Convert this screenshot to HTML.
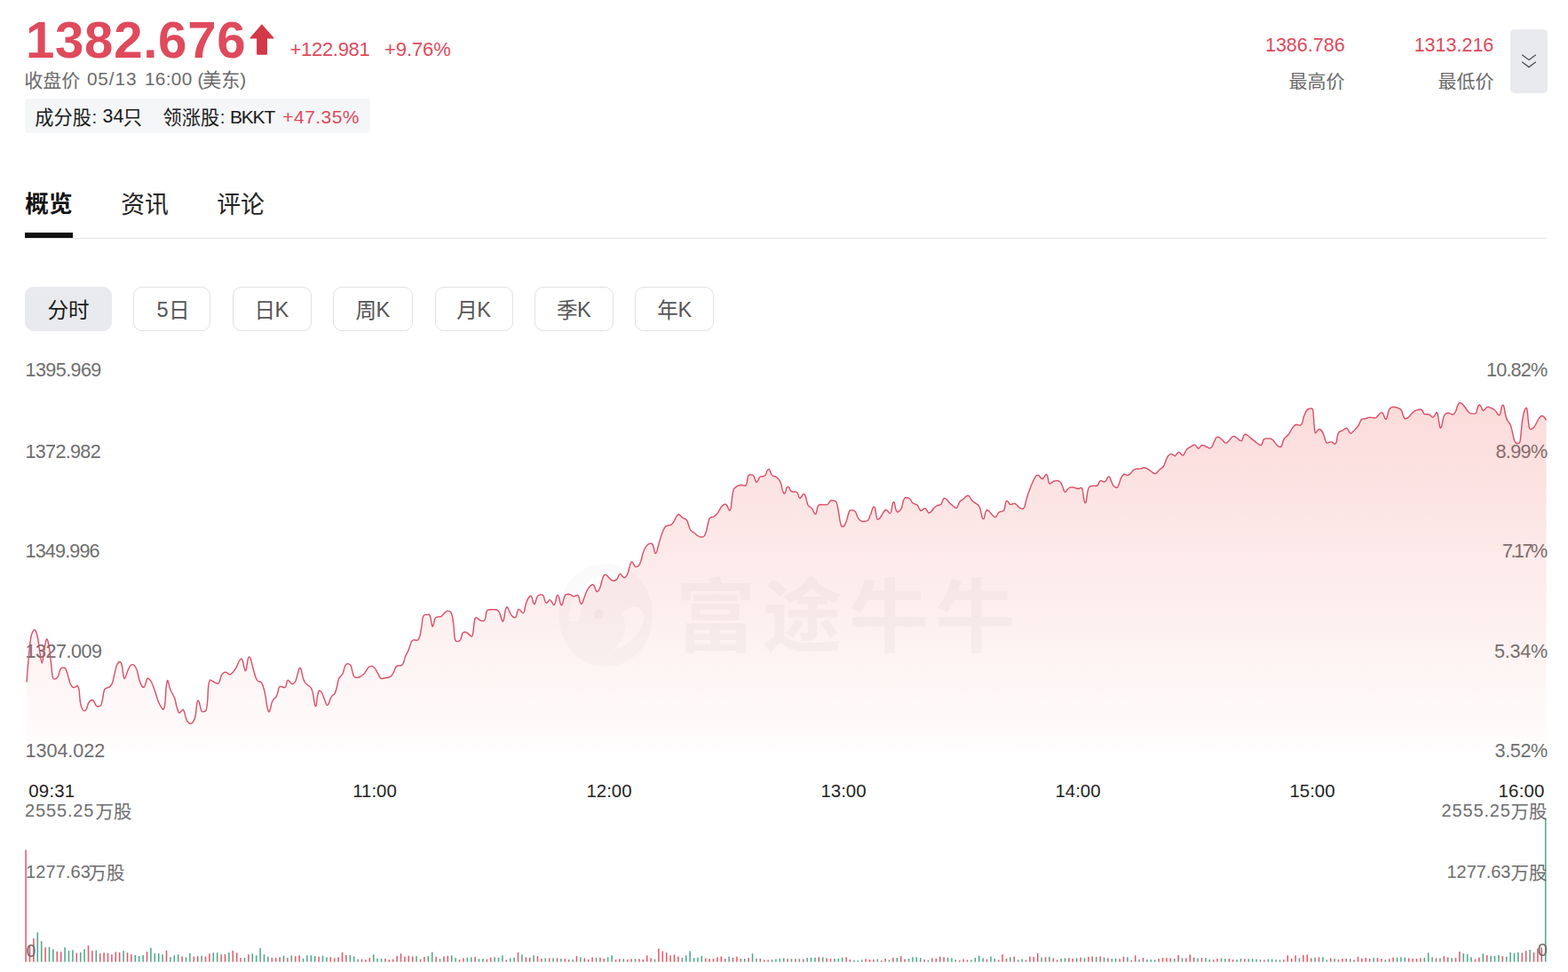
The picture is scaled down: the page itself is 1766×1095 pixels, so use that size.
<!DOCTYPE html>
<html lang="zh"><head><meta charset="utf-8"><title>Index quote</title><style>
html,body{margin:0;padding:0;background:#fff}
body{width:1766px;height:1095px;position:relative;overflow:hidden;font-family:"Liberation Sans",sans-serif}
.t{position:absolute;white-space:nowrap;line-height:1.149;}
.t.c{text-align:center}
.t.h{font-family:"Liberation Sans","Noto Sans CJK SC",sans-serif;overflow:visible;line-height:1.12;pointer-events:none}
.badge{position:absolute;left:28px;top:111px;width:389px;height:39px;border-radius:4px;background:#f5f6f7}
.morebtn{position:absolute;left:1701px;top:33px;width:42px;height:72px;border-radius:5px;background:#e9eaee}
.tabline{position:absolute;left:28px;top:268px;width:1714px;height:1px;background:#e4e4e4}
.tabul{position:absolute;left:28px;top:262px;width:54px;height:6px;background:#111}
.pbtn{position:absolute;top:323px;height:50px;box-sizing:border-box;border:1px solid #e2e2e4;border-radius:10px;background:#fff}
.pbtn.act{background:#e9eaee;border-color:#e9eaee}
svg.page{position:absolute;left:0;top:0}
</style></head>
<body>
<div class="badge"></div>
<div class="morebtn"></div>
<div class="tabline"></div><div class="tabul"></div>
<div class="pbtn act" style="left:28px;width:98.0px"></div>
<div class="pbtn" style="left:150.2px;width:87.3px"></div>
<div class="pbtn" style="left:262.4px;width:88.3px"></div>
<div class="pbtn" style="left:375.1px;width:89.6px"></div>
<div class="pbtn" style="left:489.5px;width:88.3px"></div>
<div class="pbtn" style="left:602.3px;width:88.5px"></div>
<div class="pbtn" style="left:715px;width:88.6px"></div>
<span class="t" style="top:404.75px;font-size:21.6px;color:#6e6e6e;letter-spacing:-0.6px;left:28.5px;">1395.969</span>
<span class="t" style="top:496.65px;font-size:21.6px;color:#6e6e6e;letter-spacing:-0.7px;left:28.5px;">1372.982</span>
<span class="t" style="top:609.25px;font-size:21.6px;color:#6e6e6e;letter-spacing:-0.85px;left:28.5px;">1349.996</span>
<span class="t" style="top:721.65px;font-size:21.6px;color:#6e6e6e;letter-spacing:-0.5px;left:28.5px;">1327.009</span>
<span class="t" style="top:834.25px;font-size:21.6px;color:#6e6e6e;letter-spacing:-0.05px;left:28.5px;">1304.022</span>
<span class="t" style="top:404.75px;font-size:21.6px;color:#6e6e6e;letter-spacing:-0.8px;right:23.60px;">10.82%</span>
<span class="t" style="top:496.65px;font-size:21.6px;color:#6e6e6e;letter-spacing:-0.6px;right:23.40px;">8.99%</span>
<span class="t" style="top:609.25px;font-size:21.6px;color:#6e6e6e;letter-spacing:-2.5px;right:25.30px;">7.17%</span>
<span class="t" style="top:721.65px;font-size:21.6px;color:#6e6e6e;letter-spacing:-0.25px;right:23.05px;">5.34%</span>
<span class="t" style="top:834.25px;font-size:21.6px;color:#6e6e6e;letter-spacing:-0.38px;right:23.18px;">3.52%</span>
<svg class="page" width="1766" height="1095" viewBox="0 0 1766 1095">
<path d="M294.9 27.2 L308.4 42.6 Q308.9 43.6 307.8 43.6 L301 43.6 L301 60.8 Q301 61.8 300 61.8 L290.1 61.8 Q289.1 61.8 289.1 60.8 L289.1 43.6 L282.2 43.6 Q281 43.6 281.6 42.6 Z" fill="#d23847"/>
<path d="M1714.2 61.8 L1722 67.5 L1729.8 61.8 M1714.2 69.8 L1722 75.6 L1729.8 69.8" fill="none" stroke="#4d4d4d" stroke-width="1.25"/>
<defs><linearGradient id="g" x1="0" y1="440" x2="0" y2="872" gradientUnits="userSpaceOnUse"><stop offset="0" stop-color="#eb5a55" stop-opacity="0.225"/><stop offset="1" stop-color="#eb5a55" stop-opacity="0"/></linearGradient></defs>
<path d="M30.0 768.5C30.4 763.6 31.4 750.3 32.2 741.3C33.1 732.3 33.6 724.4 34.7 718.6C35.9 712.9 37.4 709.8 38.7 709.4C40.0 709.0 41.0 712.1 42.1 716.4C43.2 720.7 43.8 727.9 44.7 733.4C45.6 738.9 46.3 747.0 47.2 747.0C48.1 747.0 48.7 738.2 49.7 733.4C50.6 728.5 51.5 721.0 52.5 720.0C53.5 719.0 54.2 723.1 55.1 727.7C56.0 732.4 56.7 739.7 57.4 745.8C58.1 751.9 58.4 758.2 59.1 761.7C59.8 765.2 60.2 765.0 61.3 765.1C62.5 765.2 64.2 764.1 65.3 762.2C66.4 760.4 66.8 756.7 67.6 754.9C68.4 753.1 68.7 752.6 69.8 752.3C70.9 752.0 72.7 751.9 73.8 753.2C74.9 754.5 75.1 756.5 76.1 759.4C77.0 762.4 77.9 767.0 78.9 769.6C79.9 772.3 80.7 773.3 81.7 774.1C82.7 775.0 83.5 774.4 84.5 774.1C85.6 773.9 86.6 771.9 87.4 772.6C88.2 773.2 88.5 774.2 89.1 777.5C89.6 780.9 89.8 787.4 90.4 791.1C91.1 794.9 91.6 796.8 92.5 798.5C93.4 800.2 94.4 800.8 95.3 800.8C96.2 800.8 96.8 800.1 97.6 798.5C98.4 796.9 98.7 793.5 99.8 791.7C101.0 789.9 102.7 788.7 103.8 788.5C104.9 788.3 105.3 789.4 106.1 790.6C106.9 791.7 107.4 794.1 108.3 795.1C109.3 796.0 110.2 796.1 111.2 795.9C112.2 795.7 113.2 795.6 114.0 794.0C114.8 792.3 115.1 789.6 115.7 786.6C116.3 783.6 116.7 779.6 117.4 777.5C118.1 775.5 118.5 776.0 119.7 775.3C120.8 774.6 122.4 774.6 123.6 773.6C124.8 772.6 125.5 772.0 126.5 769.6C127.4 767.3 127.8 764.2 128.7 760.5C129.6 756.9 130.4 751.9 131.6 749.2C132.7 746.5 133.9 745.5 134.9 745.5C136.0 745.5 136.5 746.5 137.2 749.2C137.9 751.9 138.4 757.8 138.9 760.5C139.4 763.3 139.5 764.3 140.1 764.5C140.6 764.7 140.9 763.6 141.7 761.7C142.6 759.8 143.5 756.1 144.6 753.8C145.7 751.5 146.7 749.6 148.0 748.9C149.2 748.2 150.2 748.7 151.4 749.8C152.5 750.9 153.2 751.9 154.2 754.9C155.2 757.8 156.0 763.0 157.0 766.2C158.0 769.5 158.9 771.6 159.9 773.0C160.8 774.4 161.4 774.5 162.1 774.1C162.8 773.7 163.2 772.4 163.8 770.8C164.4 769.1 164.9 766.2 165.5 765.1C166.1 763.9 166.3 763.7 167.2 764.3C168.1 764.9 169.3 765.9 170.6 768.5C171.9 771.1 173.2 774.6 174.6 778.7C176.0 782.7 177.1 787.7 178.6 791.1C180.0 794.6 181.4 796.6 182.5 797.9C183.6 799.3 183.8 799.7 184.4 798.7C185.1 797.7 185.4 796.5 185.9 792.3C186.4 788.0 186.6 779.9 187.0 775.3C187.5 770.7 188.0 767.8 188.5 766.8C189.0 765.8 189.2 767.7 189.9 769.6C190.5 771.5 190.9 774.5 192.1 777.5C193.4 780.6 195.4 783.3 196.7 786.6C197.9 789.9 198.1 792.8 198.9 795.7C199.8 798.5 200.4 801.3 201.2 802.5C202.0 803.6 202.6 802.5 203.5 801.9C204.4 801.3 205.5 799.0 206.3 799.3C207.1 799.6 207.3 801.4 208.0 803.6C208.7 805.8 209.2 809.4 210.3 811.5C211.3 813.6 212.4 814.7 213.7 815.1C214.9 815.5 215.9 815.2 217.1 813.8C218.2 812.3 219.1 810.9 220.0 807.0C220.9 803.1 221.2 795.3 221.9 792.1C222.5 788.9 223.0 788.8 223.6 789.3C224.2 789.8 224.7 792.8 225.3 794.9C225.9 797.1 226.2 800.0 227.0 801.2C227.8 802.4 228.9 801.7 229.8 801.5C230.7 801.3 231.4 801.8 232.1 800.0C232.8 798.2 233.1 796.3 233.6 791.5C234.0 786.8 234.2 777.9 234.7 773.4C235.2 768.9 235.4 767.5 236.3 766.4C237.1 765.3 238.2 767.0 239.4 767.5C240.7 768.1 242.2 769.1 243.4 769.5C244.6 769.9 245.4 770.5 246.2 769.8C247.1 769.1 247.3 767.2 247.9 765.5C248.6 763.8 248.8 761.8 249.6 760.4C250.5 759.0 251.6 758.1 252.5 757.6C253.4 757.0 253.9 757.1 254.7 757.3C255.5 757.6 256.2 758.4 257.0 758.9C257.8 759.4 258.0 760.3 258.9 760.1C259.8 759.8 260.8 759.0 262.1 757.6C263.4 756.1 264.7 754.2 266.1 751.9C267.4 749.6 268.4 746.3 269.5 744.5C270.5 742.8 271.0 742.3 271.7 742.3C272.4 742.3 272.8 742.7 273.4 744.5C274.0 746.4 274.6 750.4 275.1 752.5C275.6 754.5 275.9 756.0 276.4 755.9C276.8 755.8 277.2 754.3 277.7 751.9C278.3 749.5 278.7 744.4 279.3 742.3C279.9 740.1 280.3 739.9 280.9 740.0C281.5 740.1 281.8 740.7 282.5 742.8C283.2 745.0 283.8 748.4 284.8 751.9C285.7 755.4 286.7 759.4 287.6 762.1C288.5 764.8 289.0 765.6 289.8 766.6C290.7 767.6 291.3 767.4 292.1 767.8C292.9 768.2 293.6 767.8 294.4 768.9C295.2 770.0 295.8 771.3 296.6 774.0C297.5 776.6 298.2 779.8 298.9 783.6C299.6 787.4 300.0 791.9 300.6 794.9C301.2 798.0 301.5 799.3 302.0 800.6C302.4 801.9 302.7 802.2 303.1 802.0C303.5 801.8 303.7 801.2 304.2 799.5C304.8 797.7 305.3 794.3 306.0 792.1C306.8 790.0 307.4 788.8 308.3 787.6C309.2 786.4 310.0 786.4 310.8 785.3C311.5 784.2 311.9 783.2 312.5 781.4C313.1 779.5 313.4 776.6 314.0 775.1C314.5 773.7 314.9 773.5 315.6 773.2C316.2 772.9 316.7 773.4 317.6 773.6C318.5 773.9 319.6 774.7 320.4 774.5C321.2 774.4 321.6 774.1 322.1 772.9C322.6 771.6 322.8 769.0 323.2 767.8C323.7 766.5 324.1 766.1 324.6 766.1C325.1 766.1 325.4 767.0 326.1 767.8C326.8 768.5 327.5 769.8 328.4 770.2C329.2 770.7 329.8 770.6 330.6 770.0C331.4 769.5 332.1 769.0 332.9 767.2C333.7 765.4 334.4 762.3 335.1 759.8C335.9 757.4 336.3 754.9 336.8 753.6C337.3 752.3 337.5 752.3 338.0 752.5C338.4 752.7 338.8 752.8 339.3 754.7C339.9 756.7 340.4 760.7 341.1 763.2C341.9 765.8 342.6 767.3 343.6 768.9C344.7 770.5 345.8 770.9 347.0 772.1C348.3 773.2 349.5 773.4 350.4 775.1C351.4 776.8 351.8 778.4 352.5 781.4C353.1 784.3 353.6 789.0 354.1 791.5C354.5 794.1 354.8 795.1 355.2 795.5C355.6 795.9 355.9 795.7 356.3 793.8C356.7 791.9 357.0 787.4 357.4 784.8C357.9 782.1 358.4 780.0 358.9 778.9C359.5 777.7 359.8 777.9 360.4 778.2C361.0 778.4 361.5 778.6 362.3 780.2C363.2 781.8 364.2 784.7 365.1 787.0C366.1 789.4 366.8 791.9 367.4 793.2C368.1 794.6 368.3 794.5 368.8 794.4C369.3 794.3 369.6 794.0 370.2 792.7C370.9 791.3 371.5 788.6 372.2 787.0C372.9 785.4 373.3 784.6 374.2 783.6C375.1 782.6 376.1 783.0 377.0 781.4C378.0 779.7 378.6 777.4 379.3 774.5C380.1 771.7 380.5 767.7 381.2 765.5C381.9 763.2 382.4 763.3 383.3 762.1C384.1 760.9 385.2 760.5 386.1 758.7C387.0 756.9 387.3 753.8 388.0 751.9C388.7 750.0 389.3 749.0 390.1 748.3C390.8 747.6 391.4 747.6 392.3 747.9C393.2 748.3 394.3 748.7 395.2 750.2C396.0 751.7 396.2 754.3 396.9 756.4C397.5 758.5 397.8 760.6 398.6 761.9C399.3 763.1 399.8 763.0 400.8 763.2C401.8 763.4 403.0 763.4 404.2 763.0C405.4 762.6 406.6 761.6 407.6 761.0C408.7 760.3 409.3 759.9 410.0 759.3C410.7 758.6 410.5 758.7 411.3 757.4C412.2 756.1 413.6 753.6 414.7 752.3C415.8 751.0 416.4 750.5 417.6 750.4C418.7 750.2 419.7 750.4 420.9 751.5C422.2 752.6 423.2 754.4 424.4 756.3C425.5 758.1 426.3 760.5 427.2 761.9C428.1 763.4 428.2 764.1 429.2 764.4C430.2 764.8 431.5 764.2 432.8 764.0C434.2 763.8 435.5 763.6 436.8 763.3C438.1 762.9 439.1 762.9 440.2 761.9C441.3 761.0 442.1 759.7 443.0 758.0C444.0 756.2 444.5 753.7 445.3 752.3C446.1 750.9 446.6 750.5 447.6 750.0C448.6 749.6 449.9 750.0 451.0 749.8C452.0 749.6 452.5 749.7 453.2 748.9C453.9 748.1 454.3 747.2 454.9 745.5C455.5 743.8 455.8 741.4 456.6 739.3C457.4 737.1 458.5 735.6 459.5 733.6C460.4 731.6 461.0 729.9 461.7 728.0C462.4 726.0 462.7 724.1 463.4 722.9C464.1 721.6 464.8 721.2 465.7 720.9C466.6 720.6 467.5 721.2 468.5 721.2C469.5 721.1 470.3 721.6 471.1 720.6C471.9 719.6 472.4 718.0 473.1 715.5C473.7 712.9 474.2 709.9 474.8 706.4C475.3 703.0 475.5 698.7 476.1 696.2C476.7 693.8 477.0 693.5 477.9 692.8C478.8 692.1 479.9 692.4 481.0 692.4C482.0 692.4 483.1 691.9 483.8 692.8C484.6 693.7 484.7 695.4 485.2 697.4C485.6 699.3 485.9 702.1 486.3 703.6C486.7 705.1 486.8 706.0 487.2 705.9C487.6 705.8 487.9 704.6 488.3 703.0C488.8 701.5 489.1 698.8 489.7 697.4C490.3 696.0 490.7 695.8 491.5 695.3C492.3 694.9 493.0 695.0 494.0 694.9C495.0 694.7 495.9 695.0 496.8 694.5C497.7 694.1 498.2 693.2 499.1 692.3C500.0 691.3 500.9 690.0 501.9 689.2C503.0 688.5 503.7 688.0 504.8 688.1C505.8 688.1 506.7 688.2 507.6 689.5C508.5 690.7 509.0 692.3 509.6 695.1C510.2 698.0 510.6 701.4 511.0 705.3C511.4 709.2 511.5 713.7 511.9 716.6C512.3 719.6 512.5 720.6 513.0 721.7C513.6 722.8 514.1 722.6 515.0 722.6C515.8 722.6 517.0 722.5 517.8 721.7C518.6 720.9 518.9 719.8 519.5 718.3C520.1 716.8 520.3 714.3 521.0 713.2C521.6 712.1 522.0 712.2 522.9 712.1C523.7 712.0 524.7 712.2 525.7 712.7C526.7 713.2 527.5 714.1 528.5 714.9C529.6 715.7 530.6 717.5 531.4 717.2C532.1 716.9 532.3 715.8 532.7 713.2C533.2 710.7 533.5 706.0 533.9 703.0C534.3 700.1 534.5 698.1 535.0 696.8C535.5 695.5 535.8 695.6 536.5 695.7C537.1 695.8 537.8 696.8 538.7 697.4C539.6 698.0 540.4 698.7 541.6 699.1C542.7 699.4 544.0 699.9 545.0 699.4C545.9 698.9 546.2 698.0 546.7 696.2C547.2 694.4 547.3 691.1 547.8 689.5C548.3 687.8 548.6 687.7 549.5 687.2C550.4 686.7 551.6 686.8 552.9 686.7C554.2 686.6 555.5 686.6 556.9 686.7C558.2 686.9 559.2 686.8 560.2 687.4C561.3 688.0 561.8 688.6 562.5 690.0C563.2 691.4 563.7 693.5 564.2 695.1C564.8 696.7 565.1 698.2 565.6 699.1C566.0 699.9 566.3 700.4 566.7 699.9C567.1 699.4 567.4 698.3 567.8 696.2C568.2 694.2 568.5 690.5 569.0 688.3C569.4 686.2 570.0 685.1 570.4 684.4C570.9 683.6 571.1 683.5 571.6 684.1C572.1 684.7 572.6 686.3 573.3 687.8C574.0 689.2 574.7 691.0 575.5 692.3C576.4 693.6 577.0 694.3 577.8 694.9C578.6 695.5 579.4 695.9 580.1 695.7C580.8 695.4 581.3 694.7 581.8 693.4C582.3 692.1 582.4 689.6 582.9 688.3C583.4 687.0 583.8 686.4 584.4 686.4C585.0 686.4 585.5 687.3 586.3 688.1C587.1 688.8 588.1 690.4 588.9 690.6C589.7 690.7 589.9 690.5 590.5 688.9C591.0 687.2 591.3 683.9 592.0 681.5C592.6 679.2 593.1 677.6 593.9 675.9C594.7 674.1 595.7 672.7 596.5 671.9C597.3 671.1 597.7 671.0 598.2 671.3C598.7 671.6 599.0 672.6 599.3 673.6C599.6 674.6 599.8 676.1 600.0 677.0C600.2 677.9 600.1 678.0 600.4 678.6C600.8 679.3 601.4 680.9 601.9 680.7C602.4 680.5 602.8 679.0 603.4 677.5C603.9 676.0 604.3 673.7 605.0 672.4C605.6 671.1 606.0 670.8 607.0 670.4C608.0 670.0 609.5 670.0 610.4 670.1C611.3 670.3 611.5 670.1 612.1 671.3C612.7 672.4 613.0 674.9 613.6 676.4C614.1 677.8 614.5 678.9 615.1 679.2C615.8 679.5 616.4 678.5 617.2 677.8C617.9 677.2 618.5 675.6 619.2 675.6C619.9 675.5 620.5 676.6 621.1 677.5C621.8 678.4 622.3 679.8 622.8 680.5C623.4 681.3 623.7 681.9 624.2 681.5C624.7 681.0 625.2 679.7 625.7 678.1C626.1 676.4 626.3 673.8 626.8 672.4C627.3 671.0 627.8 670.3 628.3 670.4C628.8 670.5 629.2 671.4 629.6 673.0C630.1 674.5 630.5 677.6 631.0 679.2C631.5 680.8 631.9 681.8 632.5 681.8C633.0 681.8 633.4 680.7 633.9 679.2C634.4 677.7 634.7 675.2 635.3 673.5C635.9 671.9 636.2 670.9 637.0 670.1C637.8 669.4 638.8 669.3 639.8 669.2C640.8 669.2 641.6 669.4 642.7 669.9C643.7 670.4 644.5 671.7 645.5 671.9C646.4 672.2 647.1 671.5 648.0 671.3C648.9 671.0 649.9 670.1 650.6 670.4C651.3 670.7 651.6 671.5 652.1 673.0C652.6 674.4 652.9 677.3 653.4 678.6C653.9 680.0 654.3 680.5 654.8 680.5C655.3 680.5 655.7 679.9 656.2 678.6C656.8 677.4 657.2 675.6 658.0 673.5C658.7 671.5 659.3 669.3 660.2 667.3C661.1 665.3 662.0 663.6 663.0 662.2C664.1 660.8 665.0 660.0 665.9 659.4C666.8 658.7 667.5 658.4 668.1 658.6C668.8 658.8 669.0 659.3 669.5 660.5C670.0 661.7 670.4 663.9 671.0 665.0C671.5 666.1 671.8 666.5 672.5 666.5C673.1 666.5 673.6 666.3 674.4 665.0C675.1 663.7 675.9 661.7 676.6 659.4C677.4 657.0 677.9 654.0 678.6 652.0C679.2 650.0 679.8 648.9 680.4 648.0C681.0 647.2 681.2 647.3 682.0 647.5C682.7 647.7 683.6 648.3 684.6 649.2C685.5 650.1 686.4 651.7 687.4 652.6C688.4 653.5 689.2 654.1 690.2 654.3C691.2 654.5 692.1 654.1 693.1 653.7C694.0 653.3 694.6 653.0 695.3 652.0C696.0 651.0 696.4 649.1 697.0 648.0C697.6 647.0 697.9 646.3 698.5 646.4C699.1 646.4 699.7 647.6 700.4 648.4C701.2 649.2 701.9 650.4 702.7 650.6C703.5 650.9 704.1 650.7 705.0 649.8C705.8 648.8 706.5 647.3 707.2 645.2C708.0 643.2 708.5 640.5 709.1 638.4C709.8 636.4 710.1 634.9 710.6 633.9C711.1 632.9 711.5 632.7 712.1 633.0C712.6 633.3 713.0 634.6 713.7 635.6C714.3 636.6 714.9 638.0 715.7 638.4C716.5 638.9 717.2 638.6 718.0 638.2C718.8 637.8 719.5 637.5 720.2 636.2C721.0 634.8 721.6 632.8 722.3 630.5C723.0 628.1 723.4 625.5 724.2 623.1C725.0 620.8 725.6 619.2 726.5 617.5C727.4 615.8 728.3 614.6 729.3 613.7C730.3 612.8 731.2 612.6 732.1 612.4C733.0 612.2 733.7 612.0 734.4 612.6C735.1 613.2 735.4 614.2 735.9 615.8C736.4 617.4 736.8 620.0 737.2 621.4C737.7 622.8 737.9 623.5 738.4 623.5C738.8 623.5 739.1 623.2 739.7 621.4C740.3 619.6 740.9 616.7 741.8 613.5C742.6 610.4 743.6 606.9 744.6 603.9C745.6 600.8 746.5 598.5 747.4 596.5C748.4 594.5 748.9 593.7 749.9 592.9C750.9 592.0 752.0 592.1 753.1 591.8C754.2 591.4 754.9 591.8 755.9 591.1C756.9 590.4 757.7 589.6 758.7 588.0C759.8 586.5 760.6 583.9 761.6 582.4C762.5 580.8 763.3 579.7 764.2 579.5C765.1 579.3 765.8 580.5 766.7 581.2C767.5 581.9 768.0 582.9 768.9 583.5C769.9 584.1 770.9 584.0 771.8 584.6C772.7 585.2 773.3 585.6 774.0 586.9C774.7 588.2 775.1 590.3 775.7 592.0C776.3 593.7 776.7 595.3 777.4 596.5C778.1 597.8 778.8 598.2 779.7 599.0C780.6 599.8 781.5 600.0 782.5 600.8C783.6 601.6 784.3 602.6 785.4 603.3C786.4 604.0 787.4 604.4 788.2 604.7C789.0 605.0 789.1 605.1 790.0 605.0C790.9 604.9 792.1 605.2 793.0 604.1C794.0 603.0 794.6 601.2 795.3 599.0C796.0 596.8 796.4 594.2 797.0 591.6C797.6 589.1 798.0 586.4 798.7 584.8C799.3 583.3 799.7 583.4 800.6 582.9C801.5 582.4 802.6 582.7 803.8 582.0C805.0 581.3 806.1 580.4 807.2 579.2C808.3 578.0 809.1 576.6 810.0 575.2C810.9 573.8 811.4 572.4 812.3 571.2C813.2 570.1 814.2 569.2 815.1 568.6C816.0 568.1 816.7 567.9 817.4 568.2C818.1 568.5 818.5 569.1 819.1 570.1C819.7 571.1 820.2 573.0 820.8 573.9C821.3 574.7 821.7 575.4 822.1 575.0C822.6 574.6 822.9 574.2 823.3 571.8C823.7 569.4 823.9 565.1 824.4 561.6C824.9 558.2 825.2 554.8 825.9 552.6C826.5 550.3 827.1 550.1 828.1 549.2C829.1 548.2 830.3 547.6 831.5 547.1C832.8 546.6 833.8 546.4 834.9 546.3C836.1 546.3 836.9 546.8 837.8 546.9C838.6 547.0 839.2 547.6 839.8 547.1C840.4 546.6 840.7 545.8 841.2 544.1C841.6 542.3 841.8 539.0 842.3 537.3C842.8 535.6 843.2 535.2 844.0 534.8C844.8 534.4 845.9 534.8 846.8 535.0C847.7 535.3 848.2 535.2 848.9 536.1C849.5 537.1 849.9 538.8 850.4 540.1C851.0 541.4 851.4 542.9 851.9 543.2C852.4 543.5 852.8 542.7 853.4 541.8C853.9 541.0 854.3 539.3 855.0 538.4C855.6 537.5 856.1 537.3 857.0 536.9C857.9 536.6 858.9 536.8 859.8 536.5C860.8 536.2 861.4 536.4 862.1 535.4C862.8 534.3 863.2 532.0 863.8 530.8C864.4 529.6 864.9 528.7 865.5 528.6C866.1 528.4 866.6 529.1 867.2 530.1C867.8 531.2 868.3 533.4 868.9 534.5C869.5 535.5 869.8 535.7 870.6 536.1C871.4 536.6 872.5 536.5 873.4 536.9C874.3 537.3 874.9 537.6 875.7 538.4C876.5 539.2 877.2 540.0 878.0 541.2C878.7 542.5 879.1 543.4 879.7 545.2C880.2 547.0 880.6 549.7 881.1 551.4C881.6 553.2 882.0 554.2 882.5 555.1C882.9 555.9 883.2 556.2 883.6 556.0C884.0 555.8 884.3 555.1 884.8 553.9C885.2 552.7 885.7 550.4 886.2 549.4C886.7 548.4 887.1 548.3 887.6 548.4C888.1 548.4 888.4 549.0 889.0 549.7C889.5 550.5 889.8 551.8 890.4 552.6C891.0 553.3 891.3 553.7 892.1 553.9C892.9 554.2 894.0 554.0 895.0 554.0C895.9 554.1 896.5 553.8 897.2 554.3C897.9 554.7 898.2 555.4 898.7 556.5C899.2 557.6 899.6 559.4 900.0 560.3C900.5 561.1 900.7 561.5 901.2 561.3C901.7 561.1 902.3 560.2 902.9 559.4C903.5 558.6 904.0 557.3 904.6 556.9C905.1 556.4 905.4 556.3 905.9 556.8C906.4 557.2 906.9 557.8 907.4 559.4C907.9 560.9 908.4 563.8 908.9 565.6C909.4 567.4 909.6 568.3 910.2 569.3C910.9 570.3 911.7 570.6 912.5 571.2C913.3 571.9 914.0 572.1 914.8 573.2C915.5 574.3 916.2 576.4 916.8 577.5C917.5 578.6 917.9 579.4 918.4 579.4C918.9 579.4 919.1 578.8 919.5 577.5C919.9 576.1 920.2 573.3 920.7 571.8C921.1 570.3 921.4 569.6 922.1 569.0C922.9 568.4 923.8 568.5 925.0 568.4C926.1 568.4 927.1 568.6 928.4 568.6C929.6 568.6 930.8 568.9 931.8 568.4C932.7 568.0 933.1 566.9 933.8 566.2C934.4 565.4 934.8 564.6 935.4 564.1C936.0 563.7 936.4 563.7 937.2 563.7C938.0 563.7 938.9 563.8 939.7 564.1C940.5 564.4 941.1 564.3 941.7 565.2C942.3 566.2 942.5 567.1 943.1 569.5C943.6 572.0 944.2 575.3 944.8 578.6C945.4 581.9 945.7 585.2 946.2 587.7C946.8 590.2 947.1 591.4 947.6 592.4C948.1 593.5 948.4 593.4 949.0 593.3C949.6 593.3 950.2 593.1 951.0 592.0C951.8 590.9 952.5 589.3 953.3 587.1C954.0 584.9 954.7 581.9 955.3 579.8C956.0 577.6 956.2 576.4 956.9 575.4C957.6 574.5 958.1 574.7 958.9 574.6C959.8 574.6 960.9 574.8 961.8 575.2C962.6 575.6 963.0 575.7 963.7 576.9C964.4 578.1 965.0 580.4 965.7 582.0C966.5 583.6 967.1 584.7 968.0 585.6C968.9 586.6 969.7 586.9 970.8 587.2C971.9 587.5 973.1 587.5 974.2 587.3C975.3 587.2 976.2 587.1 977.1 586.5C977.9 586.0 978.2 585.4 978.8 584.3C979.3 583.2 979.6 581.2 980.0 580.3C980.4 579.4 980.3 580.4 980.8 579.2C981.2 578.0 981.9 574.9 982.5 573.5C983.0 572.1 983.3 571.6 983.8 571.2C984.3 570.9 984.8 570.7 985.3 571.8C985.8 572.9 986.0 575.3 986.4 577.5C986.8 579.6 987.1 582.3 987.5 583.7C988.0 585.1 988.1 585.2 988.7 585.2C989.3 585.2 990.0 584.8 991.0 583.7C991.9 582.6 992.8 580.7 993.8 579.2C994.7 577.7 995.5 576.1 996.3 575.2C997.1 574.3 997.6 574.1 998.3 574.3C999.0 574.5 999.6 575.6 1000.4 576.4C1001.1 577.1 1001.7 578.4 1002.3 578.4C1002.9 578.4 1003.3 577.9 1003.8 576.4C1004.2 574.8 1004.4 571.5 1004.9 569.5C1005.3 567.6 1005.8 566.0 1006.2 565.6C1006.7 565.1 1007.2 565.7 1007.6 567.1C1008.0 568.4 1008.3 571.3 1008.7 573.0C1009.2 574.6 1009.6 575.7 1010.2 576.4C1010.8 577.0 1011.2 576.7 1011.9 576.4C1012.6 576.0 1013.5 575.3 1014.2 574.3C1014.9 573.3 1015.3 572.5 1015.9 570.7C1016.4 568.9 1016.8 566.2 1017.3 564.5C1017.9 562.7 1018.3 561.8 1018.9 561.1C1019.6 560.3 1020.1 560.4 1021.0 560.5C1021.8 560.5 1022.9 560.7 1023.8 561.3C1024.7 561.9 1025.3 562.9 1026.1 563.9C1026.8 564.9 1027.2 566.0 1028.0 566.7C1028.8 567.4 1029.7 567.4 1030.6 567.9C1031.5 568.3 1032.4 568.2 1033.2 569.0C1034.0 569.8 1034.5 571.3 1035.1 572.4C1035.8 573.5 1036.2 574.8 1036.8 575.2C1037.4 575.6 1037.9 575.0 1038.5 574.6C1039.1 574.3 1039.6 573.5 1040.2 573.2C1040.8 572.8 1041.3 572.5 1041.9 572.7C1042.5 572.9 1043.0 573.5 1043.6 574.3C1044.2 575.1 1044.7 576.6 1045.3 577.2C1045.9 577.9 1046.3 578.0 1047.0 577.7C1047.7 577.4 1048.4 576.8 1049.3 575.8C1050.2 574.8 1051.1 573.1 1052.1 572.0C1053.1 571.0 1053.9 570.3 1054.9 569.8C1056.0 569.2 1056.9 569.3 1057.8 569.0C1058.7 568.7 1059.4 569.0 1060.0 568.2C1060.7 567.4 1061.0 565.6 1061.5 564.5C1062.1 563.3 1062.5 562.2 1063.1 561.6C1063.6 561.1 1063.9 561.1 1064.6 561.4C1065.2 561.7 1065.9 562.4 1066.8 563.3C1067.7 564.3 1068.5 565.6 1069.7 566.7C1070.8 567.9 1071.9 568.8 1073.1 569.8C1074.2 570.7 1075.1 571.6 1075.9 572.0C1076.7 572.5 1077.0 572.6 1077.6 572.2C1078.1 571.7 1078.4 570.6 1079.0 569.5C1079.5 568.5 1079.8 567.2 1080.4 566.2C1081.0 565.1 1081.5 564.6 1082.3 563.9C1083.2 563.2 1084.0 563.0 1085.0 562.2C1085.9 561.4 1086.9 560.1 1087.8 559.4C1088.7 558.6 1089.1 558.3 1089.8 558.2C1090.5 558.2 1091.0 558.3 1091.7 559.1C1092.5 559.9 1093.1 561.6 1094.0 562.8C1094.9 563.9 1095.7 564.7 1096.8 565.6C1098.0 566.5 1099.2 567.0 1100.2 567.9C1101.3 568.7 1102.0 568.8 1102.7 570.1C1103.5 571.4 1104.0 573.1 1104.5 575.2C1105.1 577.4 1105.5 580.3 1105.9 582.0C1106.3 583.7 1106.6 584.2 1107.0 584.5C1107.5 584.8 1107.9 584.8 1108.4 583.7C1108.8 582.6 1109.1 580.1 1109.5 578.6C1110.0 577.1 1110.5 575.9 1111.0 575.2C1111.5 574.5 1111.9 574.4 1112.5 574.6C1113.1 574.9 1113.5 575.4 1114.4 576.4C1115.2 577.3 1116.3 578.7 1117.2 579.8C1118.1 580.8 1118.7 581.5 1119.5 582.0C1120.3 582.5 1120.9 582.7 1121.5 582.4C1122.2 582.0 1122.6 581.2 1123.1 580.3C1123.7 579.4 1123.9 578.2 1124.6 577.5C1125.3 576.8 1125.9 576.7 1126.8 576.4C1127.8 576.0 1128.9 576.4 1129.7 575.8C1130.5 575.2 1130.9 574.6 1131.4 573.0C1131.9 571.3 1132.0 568.3 1132.5 566.7C1133.0 565.1 1133.4 564.3 1134.0 564.1C1134.5 563.9 1135.0 564.9 1135.6 565.6C1136.1 566.3 1136.5 567.3 1137.0 567.9C1137.6 568.4 1138.0 568.5 1138.7 568.4C1139.5 568.4 1140.2 567.7 1141.0 567.5C1141.8 567.3 1142.5 567.0 1143.3 567.3C1144.0 567.6 1144.5 568.2 1145.3 569.0C1146.1 569.8 1146.8 570.8 1147.8 571.6C1148.8 572.3 1149.8 572.9 1150.6 573.2C1151.4 573.5 1151.7 573.6 1152.3 573.2C1152.9 572.7 1153.4 572.4 1154.0 570.7C1154.6 569.0 1155.0 566.5 1155.7 563.9C1156.4 561.2 1157.1 558.7 1158.0 556.0C1158.9 553.2 1159.8 551.1 1160.8 548.6C1161.8 546.1 1162.6 544.0 1163.7 541.8C1164.7 539.7 1165.6 537.9 1166.5 536.7C1167.3 535.5 1167.8 535.6 1168.4 535.4C1169.0 535.1 1169.5 535.0 1170.0 535.4C1170.5 535.7 1170.6 536.5 1171.3 537.2C1172.0 538.0 1173.0 539.5 1173.8 539.5C1174.6 539.6 1175.2 538.3 1175.9 537.5C1176.5 536.7 1177.0 535.5 1177.5 535.0C1178.1 534.5 1178.6 534.1 1179.0 534.6C1179.5 535.2 1179.8 536.4 1180.2 538.0C1180.6 539.7 1180.8 542.5 1181.3 543.7C1181.7 544.9 1182.0 544.9 1182.7 544.8C1183.3 544.8 1184.0 543.9 1184.9 543.4C1185.8 542.8 1186.7 542.1 1187.8 541.8C1188.8 541.4 1189.7 541.4 1190.6 541.4C1191.5 541.5 1192.0 541.5 1192.8 542.0C1193.7 542.5 1194.3 543.0 1195.1 544.3C1195.9 545.6 1196.5 547.7 1197.2 549.4C1197.8 551.0 1198.2 552.7 1198.7 553.6C1199.2 554.4 1199.4 554.4 1199.9 554.2C1200.3 554.1 1200.7 553.5 1201.3 552.8C1202.0 552.0 1202.5 550.8 1203.3 550.2C1204.0 549.5 1204.3 549.3 1205.3 549.1C1206.3 548.9 1207.6 548.9 1208.7 549.0C1209.8 549.2 1210.5 549.7 1211.5 549.9C1212.5 550.2 1213.4 550.5 1214.4 550.5C1215.3 550.5 1215.9 549.9 1216.6 549.7C1217.3 549.6 1217.8 549.1 1218.3 549.7C1218.8 550.4 1219.1 551.3 1219.5 553.3C1219.9 555.4 1220.2 559.0 1220.6 561.3C1221.0 563.5 1221.4 564.9 1221.7 565.8C1222.1 566.7 1222.2 566.6 1222.5 566.4C1222.8 566.2 1223.1 566.2 1223.4 564.7C1223.7 563.1 1224.0 560.2 1224.3 557.9C1224.7 555.5 1225.0 553.3 1225.5 551.6C1225.9 550.0 1226.3 549.3 1227.0 548.6C1227.8 547.8 1228.7 547.7 1229.7 547.5C1230.6 547.2 1231.5 547.1 1232.5 547.1C1233.4 547.1 1234.2 547.7 1235.0 547.5C1235.7 547.2 1236.2 546.8 1236.8 546.0C1237.4 545.2 1237.6 543.7 1238.1 542.9C1238.7 542.1 1239.2 541.6 1239.8 541.4C1240.5 541.3 1241.0 542.0 1241.8 542.2C1242.5 542.5 1243.3 543.1 1244.0 542.9C1244.8 542.8 1245.2 542.3 1245.8 541.4C1246.5 540.6 1246.9 538.9 1247.4 538.0C1248.0 537.2 1248.4 536.8 1248.9 536.9C1249.4 537.0 1249.8 537.5 1250.4 538.6C1250.9 539.7 1251.3 541.6 1252.0 543.1C1252.6 544.7 1253.2 546.0 1254.0 547.1C1254.8 548.2 1255.5 548.6 1256.3 549.0C1257.0 549.4 1257.4 549.6 1258.0 549.4C1258.5 549.1 1258.9 548.8 1259.4 547.7C1260.0 546.5 1260.4 544.9 1261.0 543.1C1261.6 541.4 1262.2 539.5 1262.8 538.0C1263.5 536.6 1264.1 535.9 1264.8 535.2C1265.4 534.5 1265.7 534.4 1266.5 534.3C1267.2 534.3 1267.9 534.8 1268.7 535.0C1269.5 535.2 1270.2 535.5 1271.0 535.2C1271.8 535.0 1272.3 534.4 1273.2 533.5C1274.2 532.6 1275.1 531.0 1276.1 530.1C1277.1 529.2 1277.8 528.8 1278.9 528.4C1280.0 528.1 1281.2 528.3 1282.3 528.2C1283.4 528.1 1284.1 528.1 1285.1 527.9C1286.2 527.6 1287.0 526.8 1288.0 526.7C1289.0 526.6 1289.7 526.8 1290.8 527.3C1291.9 527.8 1293.0 528.5 1294.2 529.3C1295.4 530.1 1296.5 531.1 1297.6 531.8C1298.7 532.6 1299.5 533.4 1300.4 533.5C1301.3 533.7 1301.8 533.4 1302.7 532.7C1303.6 532.0 1304.5 530.5 1305.5 529.5C1306.5 528.6 1307.4 528.1 1308.4 527.3C1309.3 526.5 1309.9 526.1 1310.6 525.0C1311.3 523.9 1311.7 522.6 1312.3 521.1C1312.9 519.5 1313.3 518.0 1314.0 516.5C1314.7 515.1 1315.2 514.0 1316.1 513.1C1316.9 512.2 1317.7 511.6 1318.5 511.4C1319.4 511.2 1320.0 511.6 1320.8 512.0C1321.7 512.4 1322.5 513.8 1323.3 513.7C1324.1 513.6 1324.6 512.2 1325.3 511.4C1326.1 510.7 1326.7 509.6 1327.4 509.4C1328.1 509.2 1328.6 509.7 1329.3 510.3C1330.0 510.9 1330.6 512.1 1331.2 512.6C1331.8 513.0 1332.1 513.2 1332.7 512.8C1333.3 512.4 1333.8 511.4 1334.4 510.3C1335.0 509.2 1335.3 508.0 1336.1 506.9C1336.9 505.8 1337.9 505.1 1338.9 504.4C1340.0 503.7 1340.9 503.5 1341.8 502.9C1342.7 502.4 1343.3 501.8 1344.0 501.5C1344.7 501.2 1345.1 501.0 1345.7 501.2C1346.3 501.4 1346.8 501.9 1347.4 502.6C1348.0 503.3 1348.5 504.5 1349.1 504.9C1349.7 505.2 1350.2 505.1 1350.8 504.6C1351.4 504.2 1351.9 502.9 1352.5 502.4C1353.1 501.8 1353.5 501.5 1354.2 501.5C1354.9 501.4 1355.7 501.8 1356.5 502.1C1357.3 502.5 1358.1 503.2 1358.8 503.5C1359.4 503.8 1359.6 503.6 1360.0 503.7C1360.4 503.9 1360.2 504.3 1360.8 504.5C1361.4 504.7 1362.5 505.0 1363.4 504.7C1364.2 504.4 1364.5 504.0 1365.3 502.7C1366.0 501.4 1366.8 499.3 1367.5 497.6C1368.3 495.9 1368.8 494.4 1369.5 493.4C1370.2 492.4 1370.7 492.2 1371.5 492.1C1372.3 492.1 1372.9 492.4 1373.8 493.1C1374.7 493.7 1375.6 494.7 1376.6 495.6C1377.6 496.6 1378.5 497.8 1379.2 498.4C1380.0 499.0 1380.1 499.1 1380.8 499.1C1381.5 499.0 1382.1 498.6 1382.8 497.9C1383.6 497.2 1384.3 496.3 1385.1 495.3C1385.9 494.3 1386.6 493.2 1387.4 492.5C1388.2 491.8 1388.8 491.4 1389.6 491.4C1390.5 491.4 1391.0 491.9 1391.9 492.5C1392.8 493.1 1393.8 494.0 1394.7 494.8C1395.6 495.5 1396.3 496.1 1397.0 496.4C1397.7 496.7 1398.2 496.9 1398.7 496.4C1399.2 495.9 1399.4 494.7 1399.8 493.6C1400.2 492.5 1400.5 491.2 1401.0 490.4C1401.5 489.7 1401.9 489.3 1402.7 489.3C1403.4 489.3 1403.9 489.5 1404.9 490.2C1405.9 490.9 1407.0 491.9 1408.3 493.1C1409.6 494.2 1410.9 495.3 1412.3 496.4C1413.7 497.6 1415.0 498.6 1416.2 499.5C1417.5 500.4 1418.3 501.0 1419.1 501.3C1419.9 501.6 1420.3 501.8 1420.8 501.3C1421.3 500.8 1421.5 499.8 1421.9 498.7C1422.3 497.6 1422.5 496.1 1423.0 495.3C1423.6 494.5 1423.8 494.4 1424.8 494.2C1425.7 493.9 1427.0 493.9 1428.1 493.9C1429.3 493.9 1430.1 493.9 1431.0 494.2C1431.9 494.4 1432.4 494.6 1433.2 495.3C1434.1 496.0 1434.6 497.0 1435.5 498.1C1436.4 499.3 1437.4 500.6 1438.3 501.5C1439.3 502.5 1439.9 502.9 1440.6 503.2C1441.3 503.6 1441.7 503.8 1442.3 503.5C1442.9 503.2 1443.3 502.7 1443.8 501.5C1444.3 500.4 1444.6 498.4 1445.1 497.0C1445.7 495.6 1446.1 494.6 1446.8 493.6C1447.5 492.6 1448.3 492.3 1449.1 491.6C1449.9 490.8 1450.5 490.4 1451.4 489.3C1452.2 488.2 1452.8 486.8 1453.6 485.5C1454.4 484.1 1455.1 482.9 1455.9 481.7C1456.7 480.6 1457.3 479.7 1458.2 479.1C1459.0 478.5 1459.6 478.4 1460.4 478.3C1461.2 478.3 1461.9 478.8 1462.7 478.9C1463.5 479.0 1464.2 479.4 1465.0 478.9C1465.7 478.4 1466.0 477.7 1466.7 476.1C1467.3 474.4 1467.7 471.9 1468.3 469.8C1469.0 467.8 1469.6 466.2 1470.3 464.7C1471.0 463.3 1471.5 462.5 1472.3 461.7C1473.1 460.9 1473.8 460.7 1474.6 460.4C1475.4 460.2 1476.1 460.0 1476.8 460.2C1477.6 460.4 1478.1 460.0 1478.5 461.3C1479.0 462.7 1479.1 464.6 1479.3 467.6C1479.6 470.5 1479.7 474.5 1480.0 477.8C1480.3 481.0 1480.5 483.9 1480.8 485.7C1481.1 487.5 1481.2 487.8 1481.6 487.9C1482.0 488.1 1482.5 487.0 1483.1 486.2C1483.6 485.5 1484.2 484.5 1484.8 484.0C1485.4 483.5 1485.8 483.4 1486.5 483.6C1487.2 483.9 1487.9 484.3 1488.7 485.5C1489.5 486.6 1490.3 488.3 1491.0 490.2C1491.7 492.1 1492.2 494.4 1492.7 495.9C1493.2 497.4 1493.5 498.1 1494.0 498.7C1494.6 499.3 1495.0 499.2 1495.5 499.1C1496.1 498.9 1496.5 498.3 1497.2 498.1C1497.9 497.9 1498.7 497.8 1499.5 497.9C1500.3 498.1 1501.0 498.6 1501.8 499.1C1502.5 499.5 1503.2 500.3 1503.8 500.2C1504.4 500.0 1504.7 499.7 1505.2 498.1C1505.6 496.6 1505.8 493.3 1506.3 491.4C1506.7 489.4 1507.0 488.4 1507.6 487.4C1508.3 486.4 1508.8 486.4 1509.7 485.9C1510.6 485.4 1511.6 485.3 1512.5 484.8C1513.4 484.2 1514.0 483.3 1514.8 482.9C1515.5 482.4 1516.1 482.1 1516.7 482.3C1517.3 482.5 1517.6 483.1 1518.2 484.0C1518.8 484.8 1519.3 486.3 1519.9 487.0C1520.5 487.8 1520.9 488.4 1521.6 488.3C1522.3 488.1 1522.9 487.2 1523.8 486.2C1524.8 485.3 1525.7 484.3 1526.7 483.2C1527.7 482.1 1528.6 481.3 1529.5 480.0C1530.4 478.7 1530.9 477.4 1531.5 476.1C1532.2 474.7 1532.6 473.4 1533.2 472.7C1533.9 471.9 1534.3 472.1 1535.2 471.9C1536.0 471.7 1536.9 471.8 1538.0 471.5C1539.1 471.3 1540.2 470.6 1541.4 470.4C1542.6 470.2 1543.6 470.3 1544.8 470.4C1546.0 470.5 1547.3 470.7 1548.2 470.7C1549.1 470.7 1549.6 470.6 1550.0 470.4C1550.4 470.2 1550.0 470.3 1550.7 469.6C1551.3 468.9 1552.6 467.3 1553.5 466.4C1554.4 465.6 1555.1 464.9 1555.8 464.7C1556.4 464.5 1556.7 464.7 1557.2 465.3C1557.7 465.9 1558.1 467.0 1558.6 468.1C1559.1 469.3 1559.4 470.9 1560.0 471.5C1560.5 472.2 1561.0 472.4 1561.4 471.9C1561.9 471.4 1562.1 470.2 1562.5 468.7C1563.0 467.2 1563.2 465.1 1563.7 463.6C1564.2 462.1 1564.7 461.1 1565.4 460.2C1566.1 459.3 1566.7 459.0 1567.7 458.7C1568.6 458.4 1569.4 458.4 1570.5 458.5C1571.6 458.6 1572.7 459.0 1573.9 459.4C1575.1 459.9 1576.4 460.2 1577.3 461.0C1578.2 461.8 1578.4 462.3 1579.0 463.6C1579.5 464.9 1579.8 466.8 1580.3 468.1C1580.8 469.5 1581.3 470.6 1581.8 471.2C1582.3 471.8 1582.6 471.8 1583.3 471.6C1584.0 471.5 1584.8 471.1 1585.8 470.4C1586.7 469.7 1587.6 468.7 1588.6 467.6C1589.6 466.5 1590.4 465.3 1591.4 464.4C1592.4 463.5 1593.2 463.0 1594.3 462.5C1595.3 462.0 1596.0 461.8 1597.1 461.6C1598.2 461.4 1599.6 461.1 1600.5 461.3C1601.4 461.6 1601.6 462.2 1602.2 463.0C1602.8 463.9 1603.0 465.2 1603.7 465.9C1604.3 466.5 1604.7 466.5 1605.6 466.7C1606.4 466.8 1607.5 466.6 1608.4 466.8C1609.3 466.9 1609.9 467.1 1610.7 467.6C1611.5 468.1 1612.1 469.2 1612.7 469.6C1613.3 470.0 1613.5 470.1 1614.1 469.8C1614.6 469.6 1615.2 468.9 1615.8 468.1C1616.4 467.3 1616.8 465.9 1617.2 465.3C1617.7 464.7 1618.0 464.3 1618.4 464.7C1618.8 465.1 1619.1 465.6 1619.5 467.6C1619.9 469.5 1620.2 473.0 1620.7 475.5C1621.1 477.9 1621.4 480.0 1621.8 481.2C1622.1 482.3 1622.3 482.2 1622.7 481.9C1623.0 481.7 1623.3 481.4 1623.7 480.0C1624.1 478.7 1624.4 476.4 1624.8 474.4C1625.3 472.3 1625.7 470.2 1626.3 468.7C1626.9 467.2 1627.4 466.8 1628.2 466.2C1629.1 465.6 1630.2 465.4 1631.1 465.3C1632.0 465.2 1632.5 465.6 1633.3 465.9C1634.2 466.2 1634.8 467.0 1635.6 467.0C1636.4 467.0 1637.1 466.7 1637.9 465.9C1638.6 465.1 1639.2 464.0 1639.9 462.5C1640.6 460.9 1640.9 458.8 1641.5 457.4C1642.0 455.9 1642.4 455.2 1643.0 454.5C1643.5 453.9 1643.9 453.6 1644.7 453.8C1645.4 453.9 1646.0 454.3 1646.9 455.1C1647.8 456.0 1648.7 457.2 1649.8 458.5C1650.8 459.8 1651.6 461.2 1652.6 462.5C1653.6 463.7 1654.4 464.6 1655.4 465.3C1656.4 466.0 1657.2 466.0 1658.2 466.1C1659.3 466.2 1660.3 466.1 1661.1 465.9C1661.9 465.6 1662.2 465.9 1662.8 464.7C1663.3 463.6 1663.7 461.1 1664.1 459.6C1664.6 458.2 1664.8 457.4 1665.3 456.8C1665.7 456.2 1666.2 455.9 1666.7 456.2C1667.3 456.5 1667.7 457.5 1668.2 458.5C1668.8 459.5 1669.3 461.2 1669.8 461.9C1670.3 462.6 1670.4 462.7 1670.9 462.5C1671.5 462.3 1672.1 461.4 1672.8 460.8C1673.4 460.1 1674.0 459.1 1674.7 458.7C1675.3 458.3 1675.6 458.3 1676.4 458.5C1677.2 458.7 1678.1 459.1 1679.2 459.6C1680.3 460.1 1681.5 460.6 1682.6 461.3C1683.7 462.1 1684.4 462.9 1685.2 463.9C1686.0 465.0 1686.5 466.3 1687.1 467.0C1687.7 467.7 1688.1 467.9 1688.6 467.6C1689.1 467.3 1689.5 466.9 1690.0 465.3C1690.4 463.7 1690.8 460.1 1691.3 458.5C1691.8 456.9 1692.3 456.2 1692.8 456.2C1693.3 456.2 1693.6 456.7 1694.0 458.5C1694.5 460.3 1694.9 464.0 1695.4 466.4C1695.9 468.9 1696.3 470.5 1697.0 472.1C1697.6 473.7 1698.3 474.2 1699.0 475.3C1699.8 476.4 1700.4 476.9 1701.1 478.3C1701.7 479.8 1702.1 481.3 1702.6 483.4C1703.2 485.6 1703.6 488.0 1704.1 490.2C1704.7 492.5 1705.0 494.4 1705.6 495.9C1706.1 497.4 1706.6 498.1 1707.2 498.7C1707.8 499.4 1708.3 499.4 1709.0 499.5C1709.7 499.6 1710.3 499.8 1710.9 499.3C1711.5 498.7 1711.8 498.7 1712.2 496.4C1712.6 494.2 1712.8 490.8 1713.2 486.8C1713.6 482.8 1714.0 478.2 1714.5 474.4C1715.1 470.5 1715.6 467.8 1716.2 465.3C1716.9 462.8 1717.5 461.6 1718.0 460.5C1718.6 459.5 1719.0 459.1 1719.4 459.6C1719.8 460.2 1720.0 461.2 1720.3 463.6C1720.6 466.0 1720.9 470.1 1721.2 473.2C1721.6 476.4 1721.9 479.3 1722.2 481.2C1722.6 483.0 1722.8 483.1 1723.4 483.4C1724.0 483.7 1724.8 483.4 1725.6 482.9C1726.5 482.3 1727.3 481.8 1728.2 480.6C1729.2 479.4 1729.8 477.7 1730.7 476.1C1731.6 474.4 1732.4 472.8 1733.2 471.5C1734.1 470.2 1734.8 469.5 1735.5 468.9C1736.2 468.4 1736.3 468.3 1737.0 468.5C1737.6 468.6 1738.3 469.0 1738.9 469.6C1739.5 470.2 1739.9 470.8 1740.4 471.5C1740.8 472.2 1741.3 473.1 1741.5 473.4L1741.49 846L29.97 846Z" fill="url(#g)"/>
<circle cx="674" cy="692" r="5.5" fill="#444" opacity="0.035"/>
<g opacity="0.028"><path d="M682 635 C712 635 735 660 735 693 C735 726 712 751 682 751 C652 751 629.5 726 629.5 693 C629.5 660 652 635 682 635 Z M640 700 C642 670 660 648 690 645 C668 655 655 672 652 700 Z M700 690 C712 680 722 682 726 694 C722 715 708 728 690 732 C704 722 708 706 700 690 Z" fill="#444" fill-rule="evenodd"/></g>
<path d="M30.0 768.5C30.4 763.6 31.4 750.3 32.2 741.3C33.1 732.3 33.6 724.4 34.7 718.6C35.9 712.9 37.4 709.8 38.7 709.4C40.0 709.0 41.0 712.1 42.1 716.4C43.2 720.7 43.8 727.9 44.7 733.4C45.6 738.9 46.3 747.0 47.2 747.0C48.1 747.0 48.7 738.2 49.7 733.4C50.6 728.5 51.5 721.0 52.5 720.0C53.5 719.0 54.2 723.1 55.1 727.7C56.0 732.4 56.7 739.7 57.4 745.8C58.1 751.9 58.4 758.2 59.1 761.7C59.8 765.2 60.2 765.0 61.3 765.1C62.5 765.2 64.2 764.1 65.3 762.2C66.4 760.4 66.8 756.7 67.6 754.9C68.4 753.1 68.7 752.6 69.8 752.3C70.9 752.0 72.7 751.9 73.8 753.2C74.9 754.5 75.1 756.5 76.1 759.4C77.0 762.4 77.9 767.0 78.9 769.6C79.9 772.3 80.7 773.3 81.7 774.1C82.7 775.0 83.5 774.4 84.5 774.1C85.6 773.9 86.6 771.9 87.4 772.6C88.2 773.2 88.5 774.2 89.1 777.5C89.6 780.9 89.8 787.4 90.4 791.1C91.1 794.9 91.6 796.8 92.5 798.5C93.4 800.2 94.4 800.8 95.3 800.8C96.2 800.8 96.8 800.1 97.6 798.5C98.4 796.9 98.7 793.5 99.8 791.7C101.0 789.9 102.7 788.7 103.8 788.5C104.9 788.3 105.3 789.4 106.1 790.6C106.9 791.7 107.4 794.1 108.3 795.1C109.3 796.0 110.2 796.1 111.2 795.9C112.2 795.7 113.2 795.6 114.0 794.0C114.8 792.3 115.1 789.6 115.7 786.6C116.3 783.6 116.7 779.6 117.4 777.5C118.1 775.5 118.5 776.0 119.7 775.3C120.8 774.6 122.4 774.6 123.6 773.6C124.8 772.6 125.5 772.0 126.5 769.6C127.4 767.3 127.8 764.2 128.7 760.5C129.6 756.9 130.4 751.9 131.6 749.2C132.7 746.5 133.9 745.5 134.9 745.5C136.0 745.5 136.5 746.5 137.2 749.2C137.9 751.9 138.4 757.8 138.9 760.5C139.4 763.3 139.5 764.3 140.1 764.5C140.6 764.7 140.9 763.6 141.7 761.7C142.6 759.8 143.5 756.1 144.6 753.8C145.7 751.5 146.7 749.6 148.0 748.9C149.2 748.2 150.2 748.7 151.4 749.8C152.5 750.9 153.2 751.9 154.2 754.9C155.2 757.8 156.0 763.0 157.0 766.2C158.0 769.5 158.9 771.6 159.9 773.0C160.8 774.4 161.4 774.5 162.1 774.1C162.8 773.7 163.2 772.4 163.8 770.8C164.4 769.1 164.9 766.2 165.5 765.1C166.1 763.9 166.3 763.7 167.2 764.3C168.1 764.9 169.3 765.9 170.6 768.5C171.9 771.1 173.2 774.6 174.6 778.7C176.0 782.7 177.1 787.7 178.6 791.1C180.0 794.6 181.4 796.6 182.5 797.9C183.6 799.3 183.8 799.7 184.4 798.7C185.1 797.7 185.4 796.5 185.9 792.3C186.4 788.0 186.6 779.9 187.0 775.3C187.5 770.7 188.0 767.8 188.5 766.8C189.0 765.8 189.2 767.7 189.9 769.6C190.5 771.5 190.9 774.5 192.1 777.5C193.4 780.6 195.4 783.3 196.7 786.6C197.9 789.9 198.1 792.8 198.9 795.7C199.8 798.5 200.4 801.3 201.2 802.5C202.0 803.6 202.6 802.5 203.5 801.9C204.4 801.3 205.5 799.0 206.3 799.3C207.1 799.6 207.3 801.4 208.0 803.6C208.7 805.8 209.2 809.4 210.3 811.5C211.3 813.6 212.4 814.7 213.7 815.1C214.9 815.5 215.9 815.2 217.1 813.8C218.2 812.3 219.1 810.9 220.0 807.0C220.9 803.1 221.2 795.3 221.9 792.1C222.5 788.9 223.0 788.8 223.6 789.3C224.2 789.8 224.7 792.8 225.3 794.9C225.9 797.1 226.2 800.0 227.0 801.2C227.8 802.4 228.9 801.7 229.8 801.5C230.7 801.3 231.4 801.8 232.1 800.0C232.8 798.2 233.1 796.3 233.6 791.5C234.0 786.8 234.2 777.9 234.7 773.4C235.2 768.9 235.4 767.5 236.3 766.4C237.1 765.3 238.2 767.0 239.4 767.5C240.7 768.1 242.2 769.1 243.4 769.5C244.6 769.9 245.4 770.5 246.2 769.8C247.1 769.1 247.3 767.2 247.9 765.5C248.6 763.8 248.8 761.8 249.6 760.4C250.5 759.0 251.6 758.1 252.5 757.6C253.4 757.0 253.9 757.1 254.7 757.3C255.5 757.6 256.2 758.4 257.0 758.9C257.8 759.4 258.0 760.3 258.9 760.1C259.8 759.8 260.8 759.0 262.1 757.6C263.4 756.1 264.7 754.2 266.1 751.9C267.4 749.6 268.4 746.3 269.5 744.5C270.5 742.8 271.0 742.3 271.7 742.3C272.4 742.3 272.8 742.7 273.4 744.5C274.0 746.4 274.6 750.4 275.1 752.5C275.6 754.5 275.9 756.0 276.4 755.9C276.8 755.8 277.2 754.3 277.7 751.9C278.3 749.5 278.7 744.4 279.3 742.3C279.9 740.1 280.3 739.9 280.9 740.0C281.5 740.1 281.8 740.7 282.5 742.8C283.2 745.0 283.8 748.4 284.8 751.9C285.7 755.4 286.7 759.4 287.6 762.1C288.5 764.8 289.0 765.6 289.8 766.6C290.7 767.6 291.3 767.4 292.1 767.8C292.9 768.2 293.6 767.8 294.4 768.9C295.2 770.0 295.8 771.3 296.6 774.0C297.5 776.6 298.2 779.8 298.9 783.6C299.6 787.4 300.0 791.9 300.6 794.9C301.2 798.0 301.5 799.3 302.0 800.6C302.4 801.9 302.7 802.2 303.1 802.0C303.5 801.8 303.7 801.2 304.2 799.5C304.8 797.7 305.3 794.3 306.0 792.1C306.8 790.0 307.4 788.8 308.3 787.6C309.2 786.4 310.0 786.4 310.8 785.3C311.5 784.2 311.9 783.2 312.5 781.4C313.1 779.5 313.4 776.6 314.0 775.1C314.5 773.7 314.9 773.5 315.6 773.2C316.2 772.9 316.7 773.4 317.6 773.6C318.5 773.9 319.6 774.7 320.4 774.5C321.2 774.4 321.6 774.1 322.1 772.9C322.6 771.6 322.8 769.0 323.2 767.8C323.7 766.5 324.1 766.1 324.6 766.1C325.1 766.1 325.4 767.0 326.1 767.8C326.8 768.5 327.5 769.8 328.4 770.2C329.2 770.7 329.8 770.6 330.6 770.0C331.4 769.5 332.1 769.0 332.9 767.2C333.7 765.4 334.4 762.3 335.1 759.8C335.9 757.4 336.3 754.9 336.8 753.6C337.3 752.3 337.5 752.3 338.0 752.5C338.4 752.7 338.8 752.8 339.3 754.7C339.9 756.7 340.4 760.7 341.1 763.2C341.9 765.8 342.6 767.3 343.6 768.9C344.7 770.5 345.8 770.9 347.0 772.1C348.3 773.2 349.5 773.4 350.4 775.1C351.4 776.8 351.8 778.4 352.5 781.4C353.1 784.3 353.6 789.0 354.1 791.5C354.5 794.1 354.8 795.1 355.2 795.5C355.6 795.9 355.9 795.7 356.3 793.8C356.7 791.9 357.0 787.4 357.4 784.8C357.9 782.1 358.4 780.0 358.9 778.9C359.5 777.7 359.8 777.9 360.4 778.2C361.0 778.4 361.5 778.6 362.3 780.2C363.2 781.8 364.2 784.7 365.1 787.0C366.1 789.4 366.8 791.9 367.4 793.2C368.1 794.6 368.3 794.5 368.8 794.4C369.3 794.3 369.6 794.0 370.2 792.7C370.9 791.3 371.5 788.6 372.2 787.0C372.9 785.4 373.3 784.6 374.2 783.6C375.1 782.6 376.1 783.0 377.0 781.4C378.0 779.7 378.6 777.4 379.3 774.5C380.1 771.7 380.5 767.7 381.2 765.5C381.9 763.2 382.4 763.3 383.3 762.1C384.1 760.9 385.2 760.5 386.1 758.7C387.0 756.9 387.3 753.8 388.0 751.9C388.7 750.0 389.3 749.0 390.1 748.3C390.8 747.6 391.4 747.6 392.3 747.9C393.2 748.3 394.3 748.7 395.2 750.2C396.0 751.7 396.2 754.3 396.9 756.4C397.5 758.5 397.8 760.6 398.6 761.9C399.3 763.1 399.8 763.0 400.8 763.2C401.8 763.4 403.0 763.4 404.2 763.0C405.4 762.6 406.6 761.6 407.6 761.0C408.7 760.3 409.3 759.9 410.0 759.3C410.7 758.6 410.5 758.7 411.3 757.4C412.2 756.1 413.6 753.6 414.7 752.3C415.8 751.0 416.4 750.5 417.6 750.4C418.7 750.2 419.7 750.4 420.9 751.5C422.2 752.6 423.2 754.4 424.4 756.3C425.5 758.1 426.3 760.5 427.2 761.9C428.1 763.4 428.2 764.1 429.2 764.4C430.2 764.8 431.5 764.2 432.8 764.0C434.2 763.8 435.5 763.6 436.8 763.3C438.1 762.9 439.1 762.9 440.2 761.9C441.3 761.0 442.1 759.7 443.0 758.0C444.0 756.2 444.5 753.7 445.3 752.3C446.1 750.9 446.6 750.5 447.6 750.0C448.6 749.6 449.9 750.0 451.0 749.8C452.0 749.6 452.5 749.7 453.2 748.9C453.9 748.1 454.3 747.2 454.9 745.5C455.5 743.8 455.8 741.4 456.6 739.3C457.4 737.1 458.5 735.6 459.5 733.6C460.4 731.6 461.0 729.9 461.7 728.0C462.4 726.0 462.7 724.1 463.4 722.9C464.1 721.6 464.8 721.2 465.7 720.9C466.6 720.6 467.5 721.2 468.5 721.2C469.5 721.1 470.3 721.6 471.1 720.6C471.9 719.6 472.4 718.0 473.1 715.5C473.7 712.9 474.2 709.9 474.8 706.4C475.3 703.0 475.5 698.7 476.1 696.2C476.7 693.8 477.0 693.5 477.9 692.8C478.8 692.1 479.9 692.4 481.0 692.4C482.0 692.4 483.1 691.9 483.8 692.8C484.6 693.7 484.7 695.4 485.2 697.4C485.6 699.3 485.9 702.1 486.3 703.6C486.7 705.1 486.8 706.0 487.2 705.9C487.6 705.8 487.9 704.6 488.3 703.0C488.8 701.5 489.1 698.8 489.7 697.4C490.3 696.0 490.7 695.8 491.5 695.3C492.3 694.9 493.0 695.0 494.0 694.9C495.0 694.7 495.9 695.0 496.8 694.5C497.7 694.1 498.2 693.2 499.1 692.3C500.0 691.3 500.9 690.0 501.9 689.2C503.0 688.5 503.7 688.0 504.8 688.1C505.8 688.1 506.7 688.2 507.6 689.5C508.5 690.7 509.0 692.3 509.6 695.1C510.2 698.0 510.6 701.4 511.0 705.3C511.4 709.2 511.5 713.7 511.9 716.6C512.3 719.6 512.5 720.6 513.0 721.7C513.6 722.8 514.1 722.6 515.0 722.6C515.8 722.6 517.0 722.5 517.8 721.7C518.6 720.9 518.9 719.8 519.5 718.3C520.1 716.8 520.3 714.3 521.0 713.2C521.6 712.1 522.0 712.2 522.9 712.1C523.7 712.0 524.7 712.2 525.7 712.7C526.7 713.2 527.5 714.1 528.5 714.9C529.6 715.7 530.6 717.5 531.4 717.2C532.1 716.9 532.3 715.8 532.7 713.2C533.2 710.7 533.5 706.0 533.9 703.0C534.3 700.1 534.5 698.1 535.0 696.8C535.5 695.5 535.8 695.6 536.5 695.7C537.1 695.8 537.8 696.8 538.7 697.4C539.6 698.0 540.4 698.7 541.6 699.1C542.7 699.4 544.0 699.9 545.0 699.4C545.9 698.9 546.2 698.0 546.7 696.2C547.2 694.4 547.3 691.1 547.8 689.5C548.3 687.8 548.6 687.7 549.5 687.2C550.4 686.7 551.6 686.8 552.9 686.7C554.2 686.6 555.5 686.6 556.9 686.7C558.2 686.9 559.2 686.8 560.2 687.4C561.3 688.0 561.8 688.6 562.5 690.0C563.2 691.4 563.7 693.5 564.2 695.1C564.8 696.7 565.1 698.2 565.6 699.1C566.0 699.9 566.3 700.4 566.7 699.9C567.1 699.4 567.4 698.3 567.8 696.2C568.2 694.2 568.5 690.5 569.0 688.3C569.4 686.2 570.0 685.1 570.4 684.4C570.9 683.6 571.1 683.5 571.6 684.1C572.1 684.7 572.6 686.3 573.3 687.8C574.0 689.2 574.7 691.0 575.5 692.3C576.4 693.6 577.0 694.3 577.8 694.9C578.6 695.5 579.4 695.9 580.1 695.7C580.8 695.4 581.3 694.7 581.8 693.4C582.3 692.1 582.4 689.6 582.9 688.3C583.4 687.0 583.8 686.4 584.4 686.4C585.0 686.4 585.5 687.3 586.3 688.1C587.1 688.8 588.1 690.4 588.9 690.6C589.7 690.7 589.9 690.5 590.5 688.9C591.0 687.2 591.3 683.9 592.0 681.5C592.6 679.2 593.1 677.6 593.9 675.9C594.7 674.1 595.7 672.7 596.5 671.9C597.3 671.1 597.7 671.0 598.2 671.3C598.7 671.6 599.0 672.6 599.3 673.6C599.6 674.6 599.8 676.1 600.0 677.0C600.2 677.9 600.1 678.0 600.4 678.6C600.8 679.3 601.4 680.9 601.9 680.7C602.4 680.5 602.8 679.0 603.4 677.5C603.9 676.0 604.3 673.7 605.0 672.4C605.6 671.1 606.0 670.8 607.0 670.4C608.0 670.0 609.5 670.0 610.4 670.1C611.3 670.3 611.5 670.1 612.1 671.3C612.7 672.4 613.0 674.9 613.6 676.4C614.1 677.8 614.5 678.9 615.1 679.2C615.8 679.5 616.4 678.5 617.2 677.8C617.9 677.2 618.5 675.6 619.2 675.6C619.9 675.5 620.5 676.6 621.1 677.5C621.8 678.4 622.3 679.8 622.8 680.5C623.4 681.3 623.7 681.9 624.2 681.5C624.7 681.0 625.2 679.7 625.7 678.1C626.1 676.4 626.3 673.8 626.8 672.4C627.3 671.0 627.8 670.3 628.3 670.4C628.8 670.5 629.2 671.4 629.6 673.0C630.1 674.5 630.5 677.6 631.0 679.2C631.5 680.8 631.9 681.8 632.5 681.8C633.0 681.8 633.4 680.7 633.9 679.2C634.4 677.7 634.7 675.2 635.3 673.5C635.9 671.9 636.2 670.9 637.0 670.1C637.8 669.4 638.8 669.3 639.8 669.2C640.8 669.2 641.6 669.4 642.7 669.9C643.7 670.4 644.5 671.7 645.5 671.9C646.4 672.2 647.1 671.5 648.0 671.3C648.9 671.0 649.9 670.1 650.6 670.4C651.3 670.7 651.6 671.5 652.1 673.0C652.6 674.4 652.9 677.3 653.4 678.6C653.9 680.0 654.3 680.5 654.8 680.5C655.3 680.5 655.7 679.9 656.2 678.6C656.8 677.4 657.2 675.6 658.0 673.5C658.7 671.5 659.3 669.3 660.2 667.3C661.1 665.3 662.0 663.6 663.0 662.2C664.1 660.8 665.0 660.0 665.9 659.4C666.8 658.7 667.5 658.4 668.1 658.6C668.8 658.8 669.0 659.3 669.5 660.5C670.0 661.7 670.4 663.9 671.0 665.0C671.5 666.1 671.8 666.5 672.5 666.5C673.1 666.5 673.6 666.3 674.4 665.0C675.1 663.7 675.9 661.7 676.6 659.4C677.4 657.0 677.9 654.0 678.6 652.0C679.2 650.0 679.8 648.9 680.4 648.0C681.0 647.2 681.2 647.3 682.0 647.5C682.7 647.7 683.6 648.3 684.6 649.2C685.5 650.1 686.4 651.7 687.4 652.6C688.4 653.5 689.2 654.1 690.2 654.3C691.2 654.5 692.1 654.1 693.1 653.7C694.0 653.3 694.6 653.0 695.3 652.0C696.0 651.0 696.4 649.1 697.0 648.0C697.6 647.0 697.9 646.3 698.5 646.4C699.1 646.4 699.7 647.6 700.4 648.4C701.2 649.2 701.9 650.4 702.7 650.6C703.5 650.9 704.1 650.7 705.0 649.8C705.8 648.8 706.5 647.3 707.2 645.2C708.0 643.2 708.5 640.5 709.1 638.4C709.8 636.4 710.1 634.9 710.6 633.9C711.1 632.9 711.5 632.7 712.1 633.0C712.6 633.3 713.0 634.6 713.7 635.6C714.3 636.6 714.9 638.0 715.7 638.4C716.5 638.9 717.2 638.6 718.0 638.2C718.8 637.8 719.5 637.5 720.2 636.2C721.0 634.8 721.6 632.8 722.3 630.5C723.0 628.1 723.4 625.5 724.2 623.1C725.0 620.8 725.6 619.2 726.5 617.5C727.4 615.8 728.3 614.6 729.3 613.7C730.3 612.8 731.2 612.6 732.1 612.4C733.0 612.2 733.7 612.0 734.4 612.6C735.1 613.2 735.4 614.2 735.9 615.8C736.4 617.4 736.8 620.0 737.2 621.4C737.7 622.8 737.9 623.5 738.4 623.5C738.8 623.5 739.1 623.2 739.7 621.4C740.3 619.6 740.9 616.7 741.8 613.5C742.6 610.4 743.6 606.9 744.6 603.9C745.6 600.8 746.5 598.5 747.4 596.5C748.4 594.5 748.9 593.7 749.9 592.9C750.9 592.0 752.0 592.1 753.1 591.8C754.2 591.4 754.9 591.8 755.9 591.1C756.9 590.4 757.7 589.6 758.7 588.0C759.8 586.5 760.6 583.9 761.6 582.4C762.5 580.8 763.3 579.7 764.2 579.5C765.1 579.3 765.8 580.5 766.7 581.2C767.5 581.9 768.0 582.9 768.9 583.5C769.9 584.1 770.9 584.0 771.8 584.6C772.7 585.2 773.3 585.6 774.0 586.9C774.7 588.2 775.1 590.3 775.7 592.0C776.3 593.7 776.7 595.3 777.4 596.5C778.1 597.8 778.8 598.2 779.7 599.0C780.6 599.8 781.5 600.0 782.5 600.8C783.6 601.6 784.3 602.6 785.4 603.3C786.4 604.0 787.4 604.4 788.2 604.7C789.0 605.0 789.1 605.1 790.0 605.0C790.9 604.9 792.1 605.2 793.0 604.1C794.0 603.0 794.6 601.2 795.3 599.0C796.0 596.8 796.4 594.2 797.0 591.6C797.6 589.1 798.0 586.4 798.7 584.8C799.3 583.3 799.7 583.4 800.6 582.9C801.5 582.4 802.6 582.7 803.8 582.0C805.0 581.3 806.1 580.4 807.2 579.2C808.3 578.0 809.1 576.6 810.0 575.2C810.9 573.8 811.4 572.4 812.3 571.2C813.2 570.1 814.2 569.2 815.1 568.6C816.0 568.1 816.7 567.9 817.4 568.2C818.1 568.5 818.5 569.1 819.1 570.1C819.7 571.1 820.2 573.0 820.8 573.9C821.3 574.7 821.7 575.4 822.1 575.0C822.6 574.6 822.9 574.2 823.3 571.8C823.7 569.4 823.9 565.1 824.4 561.6C824.9 558.2 825.2 554.8 825.9 552.6C826.5 550.3 827.1 550.1 828.1 549.2C829.1 548.2 830.3 547.6 831.5 547.1C832.8 546.6 833.8 546.4 834.9 546.3C836.1 546.3 836.9 546.8 837.8 546.9C838.6 547.0 839.2 547.6 839.8 547.1C840.4 546.6 840.7 545.8 841.2 544.1C841.6 542.3 841.8 539.0 842.3 537.3C842.8 535.6 843.2 535.2 844.0 534.8C844.8 534.4 845.9 534.8 846.8 535.0C847.7 535.3 848.2 535.2 848.9 536.1C849.5 537.1 849.9 538.8 850.4 540.1C851.0 541.4 851.4 542.9 851.9 543.2C852.4 543.5 852.8 542.7 853.4 541.8C853.9 541.0 854.3 539.3 855.0 538.4C855.6 537.5 856.1 537.3 857.0 536.9C857.9 536.6 858.9 536.8 859.8 536.5C860.8 536.2 861.4 536.4 862.1 535.4C862.8 534.3 863.2 532.0 863.8 530.8C864.4 529.6 864.9 528.7 865.5 528.6C866.1 528.4 866.6 529.1 867.2 530.1C867.8 531.2 868.3 533.4 868.9 534.5C869.5 535.5 869.8 535.7 870.6 536.1C871.4 536.6 872.5 536.5 873.4 536.9C874.3 537.3 874.9 537.6 875.7 538.4C876.5 539.2 877.2 540.0 878.0 541.2C878.7 542.5 879.1 543.4 879.7 545.2C880.2 547.0 880.6 549.7 881.1 551.4C881.6 553.2 882.0 554.2 882.5 555.1C882.9 555.9 883.2 556.2 883.6 556.0C884.0 555.8 884.3 555.1 884.8 553.9C885.2 552.7 885.7 550.4 886.2 549.4C886.7 548.4 887.1 548.3 887.6 548.4C888.1 548.4 888.4 549.0 889.0 549.7C889.5 550.5 889.8 551.8 890.4 552.6C891.0 553.3 891.3 553.7 892.1 553.9C892.9 554.2 894.0 554.0 895.0 554.0C895.9 554.1 896.5 553.8 897.2 554.3C897.9 554.7 898.2 555.4 898.7 556.5C899.2 557.6 899.6 559.4 900.0 560.3C900.5 561.1 900.7 561.5 901.2 561.3C901.7 561.1 902.3 560.2 902.9 559.4C903.5 558.6 904.0 557.3 904.6 556.9C905.1 556.4 905.4 556.3 905.9 556.8C906.4 557.2 906.9 557.8 907.4 559.4C907.9 560.9 908.4 563.8 908.9 565.6C909.4 567.4 909.6 568.3 910.2 569.3C910.9 570.3 911.7 570.6 912.5 571.2C913.3 571.9 914.0 572.1 914.8 573.2C915.5 574.3 916.2 576.4 916.8 577.5C917.5 578.6 917.9 579.4 918.4 579.4C918.9 579.4 919.1 578.8 919.5 577.5C919.9 576.1 920.2 573.3 920.7 571.8C921.1 570.3 921.4 569.6 922.1 569.0C922.9 568.4 923.8 568.5 925.0 568.4C926.1 568.4 927.1 568.6 928.4 568.6C929.6 568.6 930.8 568.9 931.8 568.4C932.7 568.0 933.1 566.9 933.8 566.2C934.4 565.4 934.8 564.6 935.4 564.1C936.0 563.7 936.4 563.7 937.2 563.7C938.0 563.7 938.9 563.8 939.7 564.1C940.5 564.4 941.1 564.3 941.7 565.2C942.3 566.2 942.5 567.1 943.1 569.5C943.6 572.0 944.2 575.3 944.8 578.6C945.4 581.9 945.7 585.2 946.2 587.7C946.8 590.2 947.1 591.4 947.6 592.4C948.1 593.5 948.4 593.4 949.0 593.3C949.6 593.3 950.2 593.1 951.0 592.0C951.8 590.9 952.5 589.3 953.3 587.1C954.0 584.9 954.7 581.9 955.3 579.8C956.0 577.6 956.2 576.4 956.9 575.4C957.6 574.5 958.1 574.7 958.9 574.6C959.8 574.6 960.9 574.8 961.8 575.2C962.6 575.6 963.0 575.7 963.7 576.9C964.4 578.1 965.0 580.4 965.7 582.0C966.5 583.6 967.1 584.7 968.0 585.6C968.9 586.6 969.7 586.9 970.8 587.2C971.9 587.5 973.1 587.5 974.2 587.3C975.3 587.2 976.2 587.1 977.1 586.5C977.9 586.0 978.2 585.4 978.8 584.3C979.3 583.2 979.6 581.2 980.0 580.3C980.4 579.4 980.3 580.4 980.8 579.2C981.2 578.0 981.9 574.9 982.5 573.5C983.0 572.1 983.3 571.6 983.8 571.2C984.3 570.9 984.8 570.7 985.3 571.8C985.8 572.9 986.0 575.3 986.4 577.5C986.8 579.6 987.1 582.3 987.5 583.7C988.0 585.1 988.1 585.2 988.7 585.2C989.3 585.2 990.0 584.8 991.0 583.7C991.9 582.6 992.8 580.7 993.8 579.2C994.7 577.7 995.5 576.1 996.3 575.2C997.1 574.3 997.6 574.1 998.3 574.3C999.0 574.5 999.6 575.6 1000.4 576.4C1001.1 577.1 1001.7 578.4 1002.3 578.4C1002.9 578.4 1003.3 577.9 1003.8 576.4C1004.2 574.8 1004.4 571.5 1004.9 569.5C1005.3 567.6 1005.8 566.0 1006.2 565.6C1006.7 565.1 1007.2 565.7 1007.6 567.1C1008.0 568.4 1008.3 571.3 1008.7 573.0C1009.2 574.6 1009.6 575.7 1010.2 576.4C1010.8 577.0 1011.2 576.7 1011.9 576.4C1012.6 576.0 1013.5 575.3 1014.2 574.3C1014.9 573.3 1015.3 572.5 1015.9 570.7C1016.4 568.9 1016.8 566.2 1017.3 564.5C1017.9 562.7 1018.3 561.8 1018.9 561.1C1019.6 560.3 1020.1 560.4 1021.0 560.5C1021.8 560.5 1022.9 560.7 1023.8 561.3C1024.7 561.9 1025.3 562.9 1026.1 563.9C1026.8 564.9 1027.2 566.0 1028.0 566.7C1028.8 567.4 1029.7 567.4 1030.6 567.9C1031.5 568.3 1032.4 568.2 1033.2 569.0C1034.0 569.8 1034.5 571.3 1035.1 572.4C1035.8 573.5 1036.2 574.8 1036.8 575.2C1037.4 575.6 1037.9 575.0 1038.5 574.6C1039.1 574.3 1039.6 573.5 1040.2 573.2C1040.8 572.8 1041.3 572.5 1041.9 572.7C1042.5 572.9 1043.0 573.5 1043.6 574.3C1044.2 575.1 1044.7 576.6 1045.3 577.2C1045.9 577.9 1046.3 578.0 1047.0 577.7C1047.7 577.4 1048.4 576.8 1049.3 575.8C1050.2 574.8 1051.1 573.1 1052.1 572.0C1053.1 571.0 1053.9 570.3 1054.9 569.8C1056.0 569.2 1056.9 569.3 1057.8 569.0C1058.7 568.7 1059.4 569.0 1060.0 568.2C1060.7 567.4 1061.0 565.6 1061.5 564.5C1062.1 563.3 1062.5 562.2 1063.1 561.6C1063.6 561.1 1063.9 561.1 1064.6 561.4C1065.2 561.7 1065.9 562.4 1066.8 563.3C1067.7 564.3 1068.5 565.6 1069.7 566.7C1070.8 567.9 1071.9 568.8 1073.1 569.8C1074.2 570.7 1075.1 571.6 1075.9 572.0C1076.7 572.5 1077.0 572.6 1077.6 572.2C1078.1 571.7 1078.4 570.6 1079.0 569.5C1079.5 568.5 1079.8 567.2 1080.4 566.2C1081.0 565.1 1081.5 564.6 1082.3 563.9C1083.2 563.2 1084.0 563.0 1085.0 562.2C1085.9 561.4 1086.9 560.1 1087.8 559.4C1088.7 558.6 1089.1 558.3 1089.8 558.2C1090.5 558.2 1091.0 558.3 1091.7 559.1C1092.5 559.9 1093.1 561.6 1094.0 562.8C1094.9 563.9 1095.7 564.7 1096.8 565.6C1098.0 566.5 1099.2 567.0 1100.2 567.9C1101.3 568.7 1102.0 568.8 1102.7 570.1C1103.5 571.4 1104.0 573.1 1104.5 575.2C1105.1 577.4 1105.5 580.3 1105.9 582.0C1106.3 583.7 1106.6 584.2 1107.0 584.5C1107.5 584.8 1107.9 584.8 1108.4 583.7C1108.8 582.6 1109.1 580.1 1109.5 578.6C1110.0 577.1 1110.5 575.9 1111.0 575.2C1111.5 574.5 1111.9 574.4 1112.5 574.6C1113.1 574.9 1113.5 575.4 1114.4 576.4C1115.2 577.3 1116.3 578.7 1117.2 579.8C1118.1 580.8 1118.7 581.5 1119.5 582.0C1120.3 582.5 1120.9 582.7 1121.5 582.4C1122.2 582.0 1122.6 581.2 1123.1 580.3C1123.7 579.4 1123.9 578.2 1124.6 577.5C1125.3 576.8 1125.9 576.7 1126.8 576.4C1127.8 576.0 1128.9 576.4 1129.7 575.8C1130.5 575.2 1130.9 574.6 1131.4 573.0C1131.9 571.3 1132.0 568.3 1132.5 566.7C1133.0 565.1 1133.4 564.3 1134.0 564.1C1134.5 563.9 1135.0 564.9 1135.6 565.6C1136.1 566.3 1136.5 567.3 1137.0 567.9C1137.6 568.4 1138.0 568.5 1138.7 568.4C1139.5 568.4 1140.2 567.7 1141.0 567.5C1141.8 567.3 1142.5 567.0 1143.3 567.3C1144.0 567.6 1144.5 568.2 1145.3 569.0C1146.1 569.8 1146.8 570.8 1147.8 571.6C1148.8 572.3 1149.8 572.9 1150.6 573.2C1151.4 573.5 1151.7 573.6 1152.3 573.2C1152.9 572.7 1153.4 572.4 1154.0 570.7C1154.6 569.0 1155.0 566.5 1155.7 563.9C1156.4 561.2 1157.1 558.7 1158.0 556.0C1158.9 553.2 1159.8 551.1 1160.8 548.6C1161.8 546.1 1162.6 544.0 1163.7 541.8C1164.7 539.7 1165.6 537.9 1166.5 536.7C1167.3 535.5 1167.8 535.6 1168.4 535.4C1169.0 535.1 1169.5 535.0 1170.0 535.4C1170.5 535.7 1170.6 536.5 1171.3 537.2C1172.0 538.0 1173.0 539.5 1173.8 539.5C1174.6 539.6 1175.2 538.3 1175.9 537.5C1176.5 536.7 1177.0 535.5 1177.5 535.0C1178.1 534.5 1178.6 534.1 1179.0 534.6C1179.5 535.2 1179.8 536.4 1180.2 538.0C1180.6 539.7 1180.8 542.5 1181.3 543.7C1181.7 544.9 1182.0 544.9 1182.7 544.8C1183.3 544.8 1184.0 543.9 1184.9 543.4C1185.8 542.8 1186.7 542.1 1187.8 541.8C1188.8 541.4 1189.7 541.4 1190.6 541.4C1191.5 541.5 1192.0 541.5 1192.8 542.0C1193.7 542.5 1194.3 543.0 1195.1 544.3C1195.9 545.6 1196.5 547.7 1197.2 549.4C1197.8 551.0 1198.2 552.7 1198.7 553.6C1199.2 554.4 1199.4 554.4 1199.9 554.2C1200.3 554.1 1200.7 553.5 1201.3 552.8C1202.0 552.0 1202.5 550.8 1203.3 550.2C1204.0 549.5 1204.3 549.3 1205.3 549.1C1206.3 548.9 1207.6 548.9 1208.7 549.0C1209.8 549.2 1210.5 549.7 1211.5 549.9C1212.5 550.2 1213.4 550.5 1214.4 550.5C1215.3 550.5 1215.9 549.9 1216.6 549.7C1217.3 549.6 1217.8 549.1 1218.3 549.7C1218.8 550.4 1219.1 551.3 1219.5 553.3C1219.9 555.4 1220.2 559.0 1220.6 561.3C1221.0 563.5 1221.4 564.9 1221.7 565.8C1222.1 566.7 1222.2 566.6 1222.5 566.4C1222.8 566.2 1223.1 566.2 1223.4 564.7C1223.7 563.1 1224.0 560.2 1224.3 557.9C1224.7 555.5 1225.0 553.3 1225.5 551.6C1225.9 550.0 1226.3 549.3 1227.0 548.6C1227.8 547.8 1228.7 547.7 1229.7 547.5C1230.6 547.2 1231.5 547.1 1232.5 547.1C1233.4 547.1 1234.2 547.7 1235.0 547.5C1235.7 547.2 1236.2 546.8 1236.8 546.0C1237.4 545.2 1237.6 543.7 1238.1 542.9C1238.7 542.1 1239.2 541.6 1239.8 541.4C1240.5 541.3 1241.0 542.0 1241.8 542.2C1242.5 542.5 1243.3 543.1 1244.0 542.9C1244.8 542.8 1245.2 542.3 1245.8 541.4C1246.5 540.6 1246.9 538.9 1247.4 538.0C1248.0 537.2 1248.4 536.8 1248.9 536.9C1249.4 537.0 1249.8 537.5 1250.4 538.6C1250.9 539.7 1251.3 541.6 1252.0 543.1C1252.6 544.7 1253.2 546.0 1254.0 547.1C1254.8 548.2 1255.5 548.6 1256.3 549.0C1257.0 549.4 1257.4 549.6 1258.0 549.4C1258.5 549.1 1258.9 548.8 1259.4 547.7C1260.0 546.5 1260.4 544.9 1261.0 543.1C1261.6 541.4 1262.2 539.5 1262.8 538.0C1263.5 536.6 1264.1 535.9 1264.8 535.2C1265.4 534.5 1265.7 534.4 1266.5 534.3C1267.2 534.3 1267.9 534.8 1268.7 535.0C1269.5 535.2 1270.2 535.5 1271.0 535.2C1271.8 535.0 1272.3 534.4 1273.2 533.5C1274.2 532.6 1275.1 531.0 1276.1 530.1C1277.1 529.2 1277.8 528.8 1278.9 528.4C1280.0 528.1 1281.2 528.3 1282.3 528.2C1283.4 528.1 1284.1 528.1 1285.1 527.9C1286.2 527.6 1287.0 526.8 1288.0 526.7C1289.0 526.6 1289.7 526.8 1290.8 527.3C1291.9 527.8 1293.0 528.5 1294.2 529.3C1295.4 530.1 1296.5 531.1 1297.6 531.8C1298.7 532.6 1299.5 533.4 1300.4 533.5C1301.3 533.7 1301.8 533.4 1302.7 532.7C1303.6 532.0 1304.5 530.5 1305.5 529.5C1306.5 528.6 1307.4 528.1 1308.4 527.3C1309.3 526.5 1309.9 526.1 1310.6 525.0C1311.3 523.9 1311.7 522.6 1312.3 521.1C1312.9 519.5 1313.3 518.0 1314.0 516.5C1314.7 515.1 1315.2 514.0 1316.1 513.1C1316.9 512.2 1317.7 511.6 1318.5 511.4C1319.4 511.2 1320.0 511.6 1320.8 512.0C1321.7 512.4 1322.5 513.8 1323.3 513.7C1324.1 513.6 1324.6 512.2 1325.3 511.4C1326.1 510.7 1326.7 509.6 1327.4 509.4C1328.1 509.2 1328.6 509.7 1329.3 510.3C1330.0 510.9 1330.6 512.1 1331.2 512.6C1331.8 513.0 1332.1 513.2 1332.7 512.8C1333.3 512.4 1333.8 511.4 1334.4 510.3C1335.0 509.2 1335.3 508.0 1336.1 506.9C1336.9 505.8 1337.9 505.1 1338.9 504.4C1340.0 503.7 1340.9 503.5 1341.8 502.9C1342.7 502.4 1343.3 501.8 1344.0 501.5C1344.7 501.2 1345.1 501.0 1345.7 501.2C1346.3 501.4 1346.8 501.9 1347.4 502.6C1348.0 503.3 1348.5 504.5 1349.1 504.9C1349.7 505.2 1350.2 505.1 1350.8 504.6C1351.4 504.2 1351.9 502.9 1352.5 502.4C1353.1 501.8 1353.5 501.5 1354.2 501.5C1354.9 501.4 1355.7 501.8 1356.5 502.1C1357.3 502.5 1358.1 503.2 1358.8 503.5C1359.4 503.8 1359.6 503.6 1360.0 503.7C1360.4 503.9 1360.2 504.3 1360.8 504.5C1361.4 504.7 1362.5 505.0 1363.4 504.7C1364.2 504.4 1364.5 504.0 1365.3 502.7C1366.0 501.4 1366.8 499.3 1367.5 497.6C1368.3 495.9 1368.8 494.4 1369.5 493.4C1370.2 492.4 1370.7 492.2 1371.5 492.1C1372.3 492.1 1372.9 492.4 1373.8 493.1C1374.7 493.7 1375.6 494.7 1376.6 495.6C1377.6 496.6 1378.5 497.8 1379.2 498.4C1380.0 499.0 1380.1 499.1 1380.8 499.1C1381.5 499.0 1382.1 498.6 1382.8 497.9C1383.6 497.2 1384.3 496.3 1385.1 495.3C1385.9 494.3 1386.6 493.2 1387.4 492.5C1388.2 491.8 1388.8 491.4 1389.6 491.4C1390.5 491.4 1391.0 491.9 1391.9 492.5C1392.8 493.1 1393.8 494.0 1394.7 494.8C1395.6 495.5 1396.3 496.1 1397.0 496.4C1397.7 496.7 1398.2 496.9 1398.7 496.4C1399.2 495.9 1399.4 494.7 1399.8 493.6C1400.2 492.5 1400.5 491.2 1401.0 490.4C1401.5 489.7 1401.9 489.3 1402.7 489.3C1403.4 489.3 1403.9 489.5 1404.9 490.2C1405.9 490.9 1407.0 491.9 1408.3 493.1C1409.6 494.2 1410.9 495.3 1412.3 496.4C1413.7 497.6 1415.0 498.6 1416.2 499.5C1417.5 500.4 1418.3 501.0 1419.1 501.3C1419.9 501.6 1420.3 501.8 1420.8 501.3C1421.3 500.8 1421.5 499.8 1421.9 498.7C1422.3 497.6 1422.5 496.1 1423.0 495.3C1423.6 494.5 1423.8 494.4 1424.8 494.2C1425.7 493.9 1427.0 493.9 1428.1 493.9C1429.3 493.9 1430.1 493.9 1431.0 494.2C1431.9 494.4 1432.4 494.6 1433.2 495.3C1434.1 496.0 1434.6 497.0 1435.5 498.1C1436.4 499.3 1437.4 500.6 1438.3 501.5C1439.3 502.5 1439.9 502.9 1440.6 503.2C1441.3 503.6 1441.7 503.8 1442.3 503.5C1442.9 503.2 1443.3 502.7 1443.8 501.5C1444.3 500.4 1444.6 498.4 1445.1 497.0C1445.7 495.6 1446.1 494.6 1446.8 493.6C1447.5 492.6 1448.3 492.3 1449.1 491.6C1449.9 490.8 1450.5 490.4 1451.4 489.3C1452.2 488.2 1452.8 486.8 1453.6 485.5C1454.4 484.1 1455.1 482.9 1455.9 481.7C1456.7 480.6 1457.3 479.7 1458.2 479.1C1459.0 478.5 1459.6 478.4 1460.4 478.3C1461.2 478.3 1461.9 478.8 1462.7 478.9C1463.5 479.0 1464.2 479.4 1465.0 478.9C1465.7 478.4 1466.0 477.7 1466.7 476.1C1467.3 474.4 1467.7 471.9 1468.3 469.8C1469.0 467.8 1469.6 466.2 1470.3 464.7C1471.0 463.3 1471.5 462.5 1472.3 461.7C1473.1 460.9 1473.8 460.7 1474.6 460.4C1475.4 460.2 1476.1 460.0 1476.8 460.2C1477.6 460.4 1478.1 460.0 1478.5 461.3C1479.0 462.7 1479.1 464.6 1479.3 467.6C1479.6 470.5 1479.7 474.5 1480.0 477.8C1480.3 481.0 1480.5 483.9 1480.8 485.7C1481.1 487.5 1481.2 487.8 1481.6 487.9C1482.0 488.1 1482.5 487.0 1483.1 486.2C1483.6 485.5 1484.2 484.5 1484.8 484.0C1485.4 483.5 1485.8 483.4 1486.5 483.6C1487.2 483.9 1487.9 484.3 1488.7 485.5C1489.5 486.6 1490.3 488.3 1491.0 490.2C1491.7 492.1 1492.2 494.4 1492.7 495.9C1493.2 497.4 1493.5 498.1 1494.0 498.7C1494.6 499.3 1495.0 499.2 1495.5 499.1C1496.1 498.9 1496.5 498.3 1497.2 498.1C1497.9 497.9 1498.7 497.8 1499.5 497.9C1500.3 498.1 1501.0 498.6 1501.8 499.1C1502.5 499.5 1503.2 500.3 1503.8 500.2C1504.4 500.0 1504.7 499.7 1505.2 498.1C1505.6 496.6 1505.8 493.3 1506.3 491.4C1506.7 489.4 1507.0 488.4 1507.6 487.4C1508.3 486.4 1508.8 486.4 1509.7 485.9C1510.6 485.4 1511.6 485.3 1512.5 484.8C1513.4 484.2 1514.0 483.3 1514.8 482.9C1515.5 482.4 1516.1 482.1 1516.7 482.3C1517.3 482.5 1517.6 483.1 1518.2 484.0C1518.8 484.8 1519.3 486.3 1519.9 487.0C1520.5 487.8 1520.9 488.4 1521.6 488.3C1522.3 488.1 1522.9 487.2 1523.8 486.2C1524.8 485.3 1525.7 484.3 1526.7 483.2C1527.7 482.1 1528.6 481.3 1529.5 480.0C1530.4 478.7 1530.9 477.4 1531.5 476.1C1532.2 474.7 1532.6 473.4 1533.2 472.7C1533.9 471.9 1534.3 472.1 1535.2 471.9C1536.0 471.7 1536.9 471.8 1538.0 471.5C1539.1 471.3 1540.2 470.6 1541.4 470.4C1542.6 470.2 1543.6 470.3 1544.8 470.4C1546.0 470.5 1547.3 470.7 1548.2 470.7C1549.1 470.7 1549.6 470.6 1550.0 470.4C1550.4 470.2 1550.0 470.3 1550.7 469.6C1551.3 468.9 1552.6 467.3 1553.5 466.4C1554.4 465.6 1555.1 464.9 1555.8 464.7C1556.4 464.5 1556.7 464.7 1557.2 465.3C1557.7 465.9 1558.1 467.0 1558.6 468.1C1559.1 469.3 1559.4 470.9 1560.0 471.5C1560.5 472.2 1561.0 472.4 1561.4 471.9C1561.9 471.4 1562.1 470.2 1562.5 468.7C1563.0 467.2 1563.2 465.1 1563.7 463.6C1564.2 462.1 1564.7 461.1 1565.4 460.2C1566.1 459.3 1566.7 459.0 1567.7 458.7C1568.6 458.4 1569.4 458.4 1570.5 458.5C1571.6 458.6 1572.7 459.0 1573.9 459.4C1575.1 459.9 1576.4 460.2 1577.3 461.0C1578.2 461.8 1578.4 462.3 1579.0 463.6C1579.5 464.9 1579.8 466.8 1580.3 468.1C1580.8 469.5 1581.3 470.6 1581.8 471.2C1582.3 471.8 1582.6 471.8 1583.3 471.6C1584.0 471.5 1584.8 471.1 1585.8 470.4C1586.7 469.7 1587.6 468.7 1588.6 467.6C1589.6 466.5 1590.4 465.3 1591.4 464.4C1592.4 463.5 1593.2 463.0 1594.3 462.5C1595.3 462.0 1596.0 461.8 1597.1 461.6C1598.2 461.4 1599.6 461.1 1600.5 461.3C1601.4 461.6 1601.6 462.2 1602.2 463.0C1602.8 463.9 1603.0 465.2 1603.7 465.9C1604.3 466.5 1604.7 466.5 1605.6 466.7C1606.4 466.8 1607.5 466.6 1608.4 466.8C1609.3 466.9 1609.9 467.1 1610.7 467.6C1611.5 468.1 1612.1 469.2 1612.7 469.6C1613.3 470.0 1613.5 470.1 1614.1 469.8C1614.6 469.6 1615.2 468.9 1615.8 468.1C1616.4 467.3 1616.8 465.9 1617.2 465.3C1617.7 464.7 1618.0 464.3 1618.4 464.7C1618.8 465.1 1619.1 465.6 1619.5 467.6C1619.9 469.5 1620.2 473.0 1620.7 475.5C1621.1 477.9 1621.4 480.0 1621.8 481.2C1622.1 482.3 1622.3 482.2 1622.7 481.9C1623.0 481.7 1623.3 481.4 1623.7 480.0C1624.1 478.7 1624.4 476.4 1624.8 474.4C1625.3 472.3 1625.7 470.2 1626.3 468.7C1626.9 467.2 1627.4 466.8 1628.2 466.2C1629.1 465.6 1630.2 465.4 1631.1 465.3C1632.0 465.2 1632.5 465.6 1633.3 465.9C1634.2 466.2 1634.8 467.0 1635.6 467.0C1636.4 467.0 1637.1 466.7 1637.9 465.9C1638.6 465.1 1639.2 464.0 1639.9 462.5C1640.6 460.9 1640.9 458.8 1641.5 457.4C1642.0 455.9 1642.4 455.2 1643.0 454.5C1643.5 453.9 1643.9 453.6 1644.7 453.8C1645.4 453.9 1646.0 454.3 1646.9 455.1C1647.8 456.0 1648.7 457.2 1649.8 458.5C1650.8 459.8 1651.6 461.2 1652.6 462.5C1653.6 463.7 1654.4 464.6 1655.4 465.3C1656.4 466.0 1657.2 466.0 1658.2 466.1C1659.3 466.2 1660.3 466.1 1661.1 465.9C1661.9 465.6 1662.2 465.9 1662.8 464.7C1663.3 463.6 1663.7 461.1 1664.1 459.6C1664.6 458.2 1664.8 457.4 1665.3 456.8C1665.7 456.2 1666.2 455.9 1666.7 456.2C1667.3 456.5 1667.7 457.5 1668.2 458.5C1668.8 459.5 1669.3 461.2 1669.8 461.9C1670.3 462.6 1670.4 462.7 1670.9 462.5C1671.5 462.3 1672.1 461.4 1672.8 460.8C1673.4 460.1 1674.0 459.1 1674.7 458.7C1675.3 458.3 1675.6 458.3 1676.4 458.5C1677.2 458.7 1678.1 459.1 1679.2 459.6C1680.3 460.1 1681.5 460.6 1682.6 461.3C1683.7 462.1 1684.4 462.9 1685.2 463.9C1686.0 465.0 1686.5 466.3 1687.1 467.0C1687.7 467.7 1688.1 467.9 1688.6 467.6C1689.1 467.3 1689.5 466.9 1690.0 465.3C1690.4 463.7 1690.8 460.1 1691.3 458.5C1691.8 456.9 1692.3 456.2 1692.8 456.2C1693.3 456.2 1693.6 456.7 1694.0 458.5C1694.5 460.3 1694.9 464.0 1695.4 466.4C1695.9 468.9 1696.3 470.5 1697.0 472.1C1697.6 473.7 1698.3 474.2 1699.0 475.3C1699.8 476.4 1700.4 476.9 1701.1 478.3C1701.7 479.8 1702.1 481.3 1702.6 483.4C1703.2 485.6 1703.6 488.0 1704.1 490.2C1704.7 492.5 1705.0 494.4 1705.6 495.9C1706.1 497.4 1706.6 498.1 1707.2 498.7C1707.8 499.4 1708.3 499.4 1709.0 499.5C1709.7 499.6 1710.3 499.8 1710.9 499.3C1711.5 498.7 1711.8 498.7 1712.2 496.4C1712.6 494.2 1712.8 490.8 1713.2 486.8C1713.6 482.8 1714.0 478.2 1714.5 474.4C1715.1 470.5 1715.6 467.8 1716.2 465.3C1716.9 462.8 1717.5 461.6 1718.0 460.5C1718.6 459.5 1719.0 459.1 1719.4 459.6C1719.8 460.2 1720.0 461.2 1720.3 463.6C1720.6 466.0 1720.9 470.1 1721.2 473.2C1721.6 476.4 1721.9 479.3 1722.2 481.2C1722.6 483.0 1722.8 483.1 1723.4 483.4C1724.0 483.7 1724.8 483.4 1725.6 482.9C1726.5 482.3 1727.3 481.8 1728.2 480.6C1729.2 479.4 1729.8 477.7 1730.7 476.1C1731.6 474.4 1732.4 472.8 1733.2 471.5C1734.1 470.2 1734.8 469.5 1735.5 468.9C1736.2 468.4 1736.3 468.3 1737.0 468.5C1737.6 468.6 1738.3 469.0 1738.9 469.6C1739.5 470.2 1739.9 470.8 1740.4 471.5C1740.8 472.2 1741.3 473.1 1741.5 473.4" fill="none" stroke="#dc4d66" stroke-width="1.4" stroke-linejoin="round"/>
<rect x="28.35" y="957.4" width="1.5" height="126.2" fill="#e0566a"/><rect x="32.75" y="1065.2" width="1.5" height="18.4" fill="#e0566a"/><rect x="37.15" y="1057.3" width="1.5" height="26.3" fill="#e0566a"/><rect x="41.55" y="1050.3" width="1.5" height="33.3" fill="#4aa585"/><rect x="45.95" y="1060.2" width="1.5" height="23.4" fill="#4aa585"/><rect x="50.35" y="1067.3" width="1.5" height="16.3" fill="#e0566a"/><rect x="54.75" y="1066.9" width="1.5" height="16.6" fill="#4aa585"/><rect x="59.15" y="1069.4" width="1.5" height="14.2" fill="#4aa585"/><rect x="63.55" y="1071.8" width="1.5" height="11.8" fill="#e0566a"/><rect x="67.95" y="1072.3" width="1.5" height="11.3" fill="#e0566a"/><rect x="72.35" y="1067.3" width="1.5" height="16.3" fill="#4aa585"/><rect x="76.75" y="1071.1" width="1.5" height="12.5" fill="#4aa585"/><rect x="81.15" y="1070.3" width="1.5" height="13.2" fill="#4aa585"/><rect x="85.55" y="1073.5" width="1.5" height="10.1" fill="#e0566a"/><rect x="89.95" y="1072.9" width="1.5" height="10.7" fill="#4aa585"/><rect x="94.35" y="1069.4" width="1.5" height="14.2" fill="#4aa585"/><rect x="98.75" y="1065.2" width="1.5" height="18.4" fill="#e0566a"/><rect x="103.15" y="1071.1" width="1.5" height="12.5" fill="#e0566a"/><rect x="107.55" y="1070.7" width="1.5" height="12.9" fill="#4aa585"/><rect x="111.95" y="1074.1" width="1.5" height="9.5" fill="#e0566a"/><rect x="116.35" y="1073.2" width="1.5" height="10.4" fill="#e0566a"/><rect x="120.75" y="1073.8" width="1.5" height="9.8" fill="#e0566a"/><rect x="125.15" y="1075.2" width="1.5" height="8.4" fill="#e0566a"/><rect x="129.55" y="1072.3" width="1.5" height="11.3" fill="#e0566a"/><rect x="133.95" y="1072.9" width="1.5" height="10.7" fill="#e0566a"/><rect x="138.35" y="1071.1" width="1.5" height="12.5" fill="#4aa585"/><rect x="142.75" y="1073.2" width="1.5" height="10.4" fill="#e0566a"/><rect x="147.15" y="1075.2" width="1.5" height="8.4" fill="#e0566a"/><rect x="151.55" y="1076.0" width="1.5" height="7.6" fill="#4aa585"/><rect x="155.95" y="1077.1" width="1.5" height="6.5" fill="#4aa585"/><rect x="160.35" y="1076.0" width="1.5" height="7.6" fill="#4aa585"/><rect x="164.75" y="1072.0" width="1.5" height="11.6" fill="#e0566a"/><rect x="169.15" y="1067.7" width="1.5" height="15.9" fill="#4aa585"/><rect x="173.55" y="1074.1" width="1.5" height="9.5" fill="#4aa585"/><rect x="177.95" y="1074.1" width="1.5" height="9.5" fill="#4aa585"/><rect x="182.35" y="1075.2" width="1.5" height="8.4" fill="#4aa585"/><rect x="186.75" y="1070.7" width="1.5" height="12.9" fill="#e0566a"/><rect x="191.15" y="1078.3" width="1.5" height="5.3" fill="#4aa585"/><rect x="195.55" y="1076.3" width="1.5" height="7.2" fill="#4aa585"/><rect x="199.95" y="1075.2" width="1.5" height="8.4" fill="#4aa585"/><rect x="204.35" y="1077.5" width="1.5" height="6.1" fill="#e0566a"/><rect x="208.75" y="1078.3" width="1.5" height="5.3" fill="#4aa585"/><rect x="213.15" y="1073.8" width="1.5" height="9.8" fill="#4aa585"/><rect x="217.55" y="1077.5" width="1.5" height="6.1" fill="#e0566a"/><rect x="221.95" y="1077.1" width="1.5" height="6.5" fill="#e0566a"/><rect x="226.35" y="1076.8" width="1.5" height="6.8" fill="#4aa585"/><rect x="230.75" y="1077.5" width="1.5" height="6.1" fill="#e0566a"/><rect x="235.15" y="1074.3" width="1.5" height="9.3" fill="#e0566a"/><rect x="239.55" y="1073.2" width="1.5" height="10.4" fill="#4aa585"/><rect x="243.95" y="1073.2" width="1.5" height="10.4" fill="#4aa585"/><rect x="248.35" y="1075.2" width="1.5" height="8.4" fill="#e0566a"/><rect x="252.75" y="1074.9" width="1.5" height="8.7" fill="#e0566a"/><rect x="257.15" y="1073.2" width="1.5" height="10.4" fill="#4aa585"/><rect x="261.55" y="1071.1" width="1.5" height="12.5" fill="#e0566a"/><rect x="265.95" y="1073.4" width="1.5" height="10.2" fill="#e0566a"/><rect x="270.35" y="1079.1" width="1.5" height="4.5" fill="#e0566a"/><rect x="274.75" y="1079.1" width="1.5" height="4.5" fill="#4aa585"/><rect x="279.15" y="1075.2" width="1.5" height="8.4" fill="#e0566a"/><rect x="283.55" y="1074.3" width="1.5" height="9.3" fill="#4aa585"/><rect x="287.95" y="1076.3" width="1.5" height="7.2" fill="#4aa585"/><rect x="292.35" y="1068.1" width="1.5" height="15.5" fill="#4aa585"/><rect x="296.75" y="1075.2" width="1.5" height="8.4" fill="#4aa585"/><rect x="301.15" y="1077.7" width="1.5" height="5.9" fill="#4aa585"/><rect x="305.55" y="1078.8" width="1.5" height="4.8" fill="#e0566a"/><rect x="309.95" y="1079.1" width="1.5" height="4.5" fill="#e0566a"/><rect x="314.35" y="1078.3" width="1.5" height="5.3" fill="#e0566a"/><rect x="318.75" y="1076.8" width="1.5" height="6.8" fill="#4aa585"/><rect x="323.15" y="1079.1" width="1.5" height="4.5" fill="#e0566a"/><rect x="327.55" y="1076.3" width="1.5" height="7.2" fill="#4aa585"/><rect x="331.95" y="1077.1" width="1.5" height="6.5" fill="#e0566a"/><rect x="336.35" y="1076.3" width="1.5" height="7.2" fill="#e0566a"/><rect x="340.75" y="1079.8" width="1.5" height="3.9" fill="#4aa585"/><rect x="345.15" y="1076.3" width="1.5" height="7.2" fill="#4aa585"/><rect x="349.55" y="1076.3" width="1.5" height="7.2" fill="#4aa585"/><rect x="353.95" y="1077.1" width="1.5" height="6.5" fill="#4aa585"/><rect x="358.35" y="1077.7" width="1.5" height="5.9" fill="#e0566a"/><rect x="362.75" y="1076.6" width="1.5" height="7.0" fill="#4aa585"/><rect x="367.15" y="1078.3" width="1.5" height="5.3" fill="#4aa585"/><rect x="371.55" y="1078.3" width="1.5" height="5.3" fill="#e0566a"/><rect x="375.95" y="1079.4" width="1.5" height="4.2" fill="#e0566a"/><rect x="380.35" y="1078.3" width="1.5" height="5.3" fill="#e0566a"/><rect x="384.75" y="1072.9" width="1.5" height="10.7" fill="#e0566a"/><rect x="389.15" y="1076.0" width="1.5" height="7.6" fill="#e0566a"/><rect x="393.55" y="1076.0" width="1.5" height="7.6" fill="#4aa585"/><rect x="397.95" y="1077.5" width="1.5" height="6.1" fill="#4aa585"/><rect x="402.35" y="1080.5" width="1.5" height="3.1" fill="#4aa585"/><rect x="406.75" y="1080.5" width="1.5" height="3.1" fill="#e0566a"/><rect x="411.15" y="1081.1" width="1.5" height="2.5" fill="#e0566a"/><rect x="415.55" y="1079.1" width="1.5" height="4.5" fill="#e0566a"/><rect x="419.95" y="1075.4" width="1.5" height="8.2" fill="#4aa585"/><rect x="424.35" y="1079.8" width="1.5" height="3.9" fill="#4aa585"/><rect x="428.75" y="1079.8" width="1.5" height="3.9" fill="#4aa585"/><rect x="433.15" y="1080.0" width="1.5" height="3.6" fill="#e0566a"/><rect x="437.55" y="1081.1" width="1.5" height="2.5" fill="#e0566a"/><rect x="441.95" y="1080.5" width="1.5" height="3.1" fill="#e0566a"/><rect x="446.35" y="1076.8" width="1.5" height="6.8" fill="#e0566a"/><rect x="450.75" y="1074.3" width="1.5" height="9.3" fill="#e0566a"/><rect x="455.15" y="1077.7" width="1.5" height="5.9" fill="#e0566a"/><rect x="459.55" y="1076.8" width="1.5" height="6.8" fill="#e0566a"/><rect x="463.95" y="1077.5" width="1.5" height="6.1" fill="#e0566a"/><rect x="468.35" y="1077.1" width="1.5" height="6.5" fill="#4aa585"/><rect x="472.75" y="1080.5" width="1.5" height="3.1" fill="#e0566a"/><rect x="477.15" y="1077.9" width="1.5" height="5.7" fill="#e0566a"/><rect x="481.55" y="1077.1" width="1.5" height="6.5" fill="#4aa585"/><rect x="485.95" y="1072.6" width="1.5" height="11.0" fill="#4aa585"/><rect x="490.35" y="1077.9" width="1.5" height="5.7" fill="#e0566a"/><rect x="494.75" y="1080.0" width="1.5" height="3.6" fill="#4aa585"/><rect x="499.15" y="1077.5" width="1.5" height="6.1" fill="#e0566a"/><rect x="503.55" y="1076.8" width="1.5" height="6.8" fill="#e0566a"/><rect x="507.95" y="1076.3" width="1.5" height="7.2" fill="#4aa585"/><rect x="512.35" y="1079.1" width="1.5" height="4.5" fill="#4aa585"/><rect x="516.75" y="1081.1" width="1.5" height="2.5" fill="#e0566a"/><rect x="521.15" y="1079.4" width="1.5" height="4.2" fill="#e0566a"/><rect x="525.55" y="1078.8" width="1.5" height="4.8" fill="#4aa585"/><rect x="529.95" y="1078.3" width="1.5" height="5.3" fill="#4aa585"/><rect x="534.35" y="1077.9" width="1.5" height="5.7" fill="#e0566a"/><rect x="538.75" y="1080.2" width="1.5" height="3.4" fill="#4aa585"/><rect x="543.15" y="1080.0" width="1.5" height="3.6" fill="#4aa585"/><rect x="547.55" y="1080.5" width="1.5" height="3.1" fill="#e0566a"/><rect x="551.95" y="1078.6" width="1.5" height="5.0" fill="#e0566a"/><rect x="556.35" y="1078.3" width="1.5" height="5.3" fill="#4aa585"/><rect x="560.75" y="1078.8" width="1.5" height="4.8" fill="#4aa585"/><rect x="565.15" y="1076.3" width="1.5" height="7.2" fill="#4aa585"/><rect x="569.55" y="1081.3" width="1.5" height="2.3" fill="#e0566a"/><rect x="573.95" y="1079.4" width="1.5" height="4.2" fill="#4aa585"/><rect x="578.35" y="1078.8" width="1.5" height="4.8" fill="#4aa585"/><rect x="582.75" y="1072.9" width="1.5" height="10.7" fill="#e0566a"/><rect x="587.15" y="1075.4" width="1.5" height="8.2" fill="#4aa585"/><rect x="591.55" y="1078.3" width="1.5" height="5.3" fill="#e0566a"/><rect x="595.95" y="1078.8" width="1.5" height="4.8" fill="#e0566a"/><rect x="600.35" y="1076.3" width="1.5" height="7.2" fill="#4aa585"/><rect x="604.75" y="1077.1" width="1.5" height="6.5" fill="#e0566a"/><rect x="609.15" y="1080.0" width="1.5" height="3.6" fill="#e0566a"/><rect x="613.55" y="1079.4" width="1.5" height="4.2" fill="#4aa585"/><rect x="617.95" y="1079.4" width="1.5" height="4.2" fill="#e0566a"/><rect x="622.35" y="1079.4" width="1.5" height="4.2" fill="#4aa585"/><rect x="626.75" y="1079.4" width="1.5" height="4.2" fill="#e0566a"/><rect x="631.15" y="1080.0" width="1.5" height="3.6" fill="#4aa585"/><rect x="635.55" y="1080.0" width="1.5" height="3.6" fill="#e0566a"/><rect x="639.95" y="1080.9" width="1.5" height="2.7" fill="#e0566a"/><rect x="644.35" y="1080.9" width="1.5" height="2.7" fill="#4aa585"/><rect x="648.75" y="1077.1" width="1.5" height="6.5" fill="#e0566a"/><rect x="653.15" y="1078.3" width="1.5" height="5.3" fill="#4aa585"/><rect x="657.55" y="1079.4" width="1.5" height="4.2" fill="#e0566a"/><rect x="661.95" y="1080.9" width="1.5" height="2.7" fill="#e0566a"/><rect x="666.35" y="1078.3" width="1.5" height="5.3" fill="#e0566a"/><rect x="670.75" y="1079.1" width="1.5" height="4.5" fill="#4aa585"/><rect x="675.15" y="1078.8" width="1.5" height="4.8" fill="#e0566a"/><rect x="679.55" y="1080.0" width="1.5" height="3.6" fill="#e0566a"/><rect x="683.95" y="1078.3" width="1.5" height="5.3" fill="#4aa585"/><rect x="688.35" y="1076.3" width="1.5" height="7.2" fill="#4aa585"/><rect x="692.75" y="1080.9" width="1.5" height="2.7" fill="#e0566a"/><rect x="697.15" y="1080.2" width="1.5" height="3.4" fill="#e0566a"/><rect x="701.55" y="1080.2" width="1.5" height="3.4" fill="#4aa585"/><rect x="705.95" y="1080.9" width="1.5" height="2.7" fill="#e0566a"/><rect x="710.35" y="1080.2" width="1.5" height="3.4" fill="#e0566a"/><rect x="714.75" y="1080.2" width="1.5" height="3.4" fill="#4aa585"/><rect x="719.15" y="1080.2" width="1.5" height="3.4" fill="#e0566a"/><rect x="723.55" y="1080.9" width="1.5" height="2.7" fill="#e0566a"/><rect x="727.95" y="1076.3" width="1.5" height="7.2" fill="#e0566a"/><rect x="732.35" y="1079.4" width="1.5" height="4.2" fill="#e0566a"/><rect x="736.75" y="1080.5" width="1.5" height="3.1" fill="#4aa585"/><rect x="741.15" y="1068.6" width="1.5" height="14.9" fill="#e0566a"/><rect x="745.55" y="1071.5" width="1.5" height="12.1" fill="#e0566a"/><rect x="749.95" y="1073.2" width="1.5" height="10.4" fill="#e0566a"/><rect x="754.35" y="1076.3" width="1.5" height="7.2" fill="#e0566a"/><rect x="758.75" y="1075.4" width="1.5" height="8.2" fill="#e0566a"/><rect x="763.15" y="1077.7" width="1.5" height="5.9" fill="#e0566a"/><rect x="767.55" y="1079.1" width="1.5" height="4.5" fill="#4aa585"/><rect x="771.95" y="1076.3" width="1.5" height="7.2" fill="#4aa585"/><rect x="776.35" y="1071.5" width="1.5" height="12.1" fill="#4aa585"/><rect x="780.75" y="1079.1" width="1.5" height="4.5" fill="#4aa585"/><rect x="785.15" y="1078.8" width="1.5" height="4.8" fill="#4aa585"/><rect x="789.55" y="1077.1" width="1.5" height="6.5" fill="#4aa585"/><rect x="793.95" y="1079.4" width="1.5" height="4.2" fill="#e0566a"/><rect x="798.35" y="1080.2" width="1.5" height="3.4" fill="#e0566a"/><rect x="802.75" y="1080.0" width="1.5" height="3.6" fill="#e0566a"/><rect x="807.15" y="1078.3" width="1.5" height="5.3" fill="#e0566a"/><rect x="811.55" y="1077.5" width="1.5" height="6.1" fill="#e0566a"/><rect x="815.95" y="1080.0" width="1.5" height="3.6" fill="#e0566a"/><rect x="820.35" y="1077.7" width="1.5" height="5.9" fill="#4aa585"/><rect x="824.75" y="1078.8" width="1.5" height="4.8" fill="#e0566a"/><rect x="829.15" y="1077.7" width="1.5" height="5.9" fill="#e0566a"/><rect x="833.55" y="1080.0" width="1.5" height="3.6" fill="#e0566a"/><rect x="837.95" y="1080.0" width="1.5" height="3.6" fill="#4aa585"/><rect x="842.35" y="1079.1" width="1.5" height="4.5" fill="#e0566a"/><rect x="846.75" y="1074.3" width="1.5" height="9.3" fill="#4aa585"/><rect x="851.15" y="1080.0" width="1.5" height="3.6" fill="#4aa585"/><rect x="855.55" y="1080.0" width="1.5" height="3.6" fill="#e0566a"/><rect x="859.95" y="1081.3" width="1.5" height="2.3" fill="#e0566a"/><rect x="864.35" y="1081.3" width="1.5" height="2.3" fill="#e0566a"/><rect x="868.75" y="1080.9" width="1.5" height="2.7" fill="#4aa585"/><rect x="873.15" y="1080.5" width="1.5" height="3.1" fill="#4aa585"/><rect x="877.55" y="1079.8" width="1.5" height="3.9" fill="#4aa585"/><rect x="881.95" y="1079.4" width="1.5" height="4.2" fill="#4aa585"/><rect x="886.35" y="1080.2" width="1.5" height="3.4" fill="#e0566a"/><rect x="890.75" y="1080.2" width="1.5" height="3.4" fill="#4aa585"/><rect x="895.15" y="1080.2" width="1.5" height="3.4" fill="#e0566a"/><rect x="899.55" y="1080.2" width="1.5" height="3.4" fill="#4aa585"/><rect x="903.95" y="1080.5" width="1.5" height="3.1" fill="#e0566a"/><rect x="908.35" y="1079.1" width="1.5" height="4.5" fill="#4aa585"/><rect x="912.75" y="1078.8" width="1.5" height="4.8" fill="#4aa585"/><rect x="917.15" y="1078.8" width="1.5" height="4.8" fill="#4aa585"/><rect x="921.55" y="1078.3" width="1.5" height="5.3" fill="#e0566a"/><rect x="925.95" y="1078.3" width="1.5" height="5.3" fill="#4aa585"/><rect x="930.35" y="1079.4" width="1.5" height="4.2" fill="#e0566a"/><rect x="934.75" y="1080.0" width="1.5" height="3.6" fill="#e0566a"/><rect x="939.15" y="1080.0" width="1.5" height="3.6" fill="#4aa585"/><rect x="943.55" y="1080.0" width="1.5" height="3.6" fill="#4aa585"/><rect x="947.95" y="1078.6" width="1.5" height="5.0" fill="#4aa585"/><rect x="952.35" y="1078.3" width="1.5" height="5.3" fill="#e0566a"/><rect x="956.75" y="1080.9" width="1.5" height="2.7" fill="#e0566a"/><rect x="961.15" y="1081.7" width="1.5" height="1.9" fill="#4aa585"/><rect x="965.55" y="1082.0" width="1.5" height="1.6" fill="#4aa585"/><rect x="969.95" y="1081.3" width="1.5" height="2.3" fill="#4aa585"/><rect x="974.35" y="1080.2" width="1.5" height="3.4" fill="#e0566a"/><rect x="978.75" y="1080.9" width="1.5" height="2.7" fill="#e0566a"/><rect x="983.15" y="1080.9" width="1.5" height="2.7" fill="#e0566a"/><rect x="987.55" y="1080.5" width="1.5" height="3.1" fill="#4aa585"/><rect x="991.95" y="1082.0" width="1.5" height="1.6" fill="#e0566a"/><rect x="996.35" y="1080.0" width="1.5" height="3.6" fill="#e0566a"/><rect x="1000.75" y="1081.3" width="1.5" height="2.3" fill="#4aa585"/><rect x="1005.15" y="1079.1" width="1.5" height="4.5" fill="#e0566a"/><rect x="1009.55" y="1079.1" width="1.5" height="4.5" fill="#4aa585"/><rect x="1013.95" y="1077.1" width="1.5" height="6.5" fill="#e0566a"/><rect x="1018.35" y="1080.5" width="1.5" height="3.1" fill="#e0566a"/><rect x="1022.75" y="1080.0" width="1.5" height="3.6" fill="#4aa585"/><rect x="1027.15" y="1078.3" width="1.5" height="5.3" fill="#4aa585"/><rect x="1031.55" y="1078.3" width="1.5" height="5.3" fill="#4aa585"/><rect x="1035.95" y="1079.1" width="1.5" height="4.5" fill="#4aa585"/><rect x="1040.35" y="1080.9" width="1.5" height="2.7" fill="#e0566a"/><rect x="1044.75" y="1081.7" width="1.5" height="1.9" fill="#4aa585"/><rect x="1049.15" y="1079.4" width="1.5" height="4.2" fill="#e0566a"/><rect x="1053.55" y="1079.8" width="1.5" height="3.9" fill="#e0566a"/><rect x="1057.95" y="1077.7" width="1.5" height="5.9" fill="#e0566a"/><rect x="1062.35" y="1078.3" width="1.5" height="5.3" fill="#e0566a"/><rect x="1066.75" y="1078.8" width="1.5" height="4.8" fill="#4aa585"/><rect x="1071.15" y="1079.4" width="1.5" height="4.2" fill="#4aa585"/><rect x="1075.55" y="1081.1" width="1.5" height="2.5" fill="#4aa585"/><rect x="1079.95" y="1082.0" width="1.5" height="1.6" fill="#e0566a"/><rect x="1084.35" y="1080.5" width="1.5" height="3.1" fill="#e0566a"/><rect x="1088.75" y="1081.3" width="1.5" height="2.3" fill="#e0566a"/><rect x="1093.15" y="1081.3" width="1.5" height="2.3" fill="#4aa585"/><rect x="1097.55" y="1079.1" width="1.5" height="4.5" fill="#4aa585"/><rect x="1101.95" y="1076.8" width="1.5" height="6.8" fill="#4aa585"/><rect x="1106.35" y="1079.4" width="1.5" height="4.2" fill="#4aa585"/><rect x="1110.75" y="1080.5" width="1.5" height="3.1" fill="#e0566a"/><rect x="1115.15" y="1077.5" width="1.5" height="6.1" fill="#4aa585"/><rect x="1119.55" y="1080.0" width="1.5" height="3.6" fill="#4aa585"/><rect x="1123.95" y="1081.3" width="1.5" height="2.3" fill="#e0566a"/><rect x="1128.35" y="1075.2" width="1.5" height="8.4" fill="#e0566a"/><rect x="1132.75" y="1080.0" width="1.5" height="3.6" fill="#e0566a"/><rect x="1137.15" y="1078.3" width="1.5" height="5.3" fill="#4aa585"/><rect x="1141.55" y="1077.7" width="1.5" height="5.9" fill="#e0566a"/><rect x="1145.95" y="1081.1" width="1.5" height="2.5" fill="#4aa585"/><rect x="1150.35" y="1080.5" width="1.5" height="3.1" fill="#4aa585"/><rect x="1154.75" y="1081.3" width="1.5" height="2.3" fill="#e0566a"/><rect x="1159.15" y="1077.5" width="1.5" height="6.1" fill="#e0566a"/><rect x="1163.55" y="1077.9" width="1.5" height="5.7" fill="#e0566a"/><rect x="1167.95" y="1073.8" width="1.5" height="9.8" fill="#e0566a"/><rect x="1172.35" y="1078.6" width="1.5" height="5.0" fill="#4aa585"/><rect x="1176.75" y="1078.3" width="1.5" height="5.3" fill="#e0566a"/><rect x="1181.15" y="1077.9" width="1.5" height="5.7" fill="#4aa585"/><rect x="1185.55" y="1079.4" width="1.5" height="4.2" fill="#e0566a"/><rect x="1189.95" y="1081.3" width="1.5" height="2.3" fill="#e0566a"/><rect x="1194.35" y="1080.0" width="1.5" height="3.6" fill="#4aa585"/><rect x="1198.75" y="1079.4" width="1.5" height="4.2" fill="#4aa585"/><rect x="1203.15" y="1079.1" width="1.5" height="4.5" fill="#e0566a"/><rect x="1207.55" y="1079.8" width="1.5" height="3.9" fill="#e0566a"/><rect x="1211.95" y="1079.4" width="1.5" height="4.2" fill="#4aa585"/><rect x="1216.35" y="1078.6" width="1.5" height="5.0" fill="#e0566a"/><rect x="1220.75" y="1079.4" width="1.5" height="4.2" fill="#4aa585"/><rect x="1225.15" y="1077.9" width="1.5" height="5.7" fill="#e0566a"/><rect x="1229.55" y="1077.5" width="1.5" height="6.1" fill="#e0566a"/><rect x="1233.95" y="1077.9" width="1.5" height="5.7" fill="#4aa585"/><rect x="1238.35" y="1077.5" width="1.5" height="6.1" fill="#e0566a"/><rect x="1242.75" y="1078.6" width="1.5" height="5.0" fill="#4aa585"/><rect x="1247.15" y="1079.4" width="1.5" height="4.2" fill="#e0566a"/><rect x="1251.55" y="1080.0" width="1.5" height="3.6" fill="#4aa585"/><rect x="1255.95" y="1079.8" width="1.5" height="3.9" fill="#4aa585"/><rect x="1260.35" y="1080.2" width="1.5" height="3.4" fill="#e0566a"/><rect x="1264.75" y="1077.7" width="1.5" height="5.9" fill="#e0566a"/><rect x="1269.15" y="1078.3" width="1.5" height="5.3" fill="#4aa585"/><rect x="1273.55" y="1081.7" width="1.5" height="1.9" fill="#e0566a"/><rect x="1277.95" y="1076.3" width="1.5" height="7.2" fill="#e0566a"/><rect x="1282.35" y="1080.9" width="1.5" height="2.7" fill="#4aa585"/><rect x="1286.75" y="1079.1" width="1.5" height="4.5" fill="#e0566a"/><rect x="1291.15" y="1080.9" width="1.5" height="2.7" fill="#4aa585"/><rect x="1295.55" y="1080.9" width="1.5" height="2.7" fill="#4aa585"/><rect x="1299.95" y="1081.3" width="1.5" height="2.3" fill="#4aa585"/><rect x="1304.35" y="1080.0" width="1.5" height="3.6" fill="#e0566a"/><rect x="1308.75" y="1079.1" width="1.5" height="4.5" fill="#e0566a"/><rect x="1313.15" y="1079.1" width="1.5" height="4.5" fill="#e0566a"/><rect x="1317.55" y="1079.4" width="1.5" height="4.2" fill="#e0566a"/><rect x="1321.95" y="1080.0" width="1.5" height="3.6" fill="#4aa585"/><rect x="1326.35" y="1076.0" width="1.5" height="7.6" fill="#e0566a"/><rect x="1330.75" y="1079.4" width="1.5" height="4.2" fill="#4aa585"/><rect x="1335.15" y="1079.4" width="1.5" height="4.2" fill="#e0566a"/><rect x="1339.55" y="1075.4" width="1.5" height="8.2" fill="#e0566a"/><rect x="1343.95" y="1078.6" width="1.5" height="5.0" fill="#e0566a"/><rect x="1348.35" y="1079.4" width="1.5" height="4.2" fill="#4aa585"/><rect x="1352.75" y="1079.1" width="1.5" height="4.5" fill="#e0566a"/><rect x="1357.15" y="1079.1" width="1.5" height="4.5" fill="#4aa585"/><rect x="1361.55" y="1080.9" width="1.5" height="2.7" fill="#4aa585"/><rect x="1365.95" y="1081.1" width="1.5" height="2.5" fill="#e0566a"/><rect x="1370.35" y="1080.0" width="1.5" height="3.6" fill="#e0566a"/><rect x="1374.75" y="1079.4" width="1.5" height="4.2" fill="#4aa585"/><rect x="1379.15" y="1080.0" width="1.5" height="3.6" fill="#4aa585"/><rect x="1383.55" y="1080.0" width="1.5" height="3.6" fill="#e0566a"/><rect x="1387.95" y="1080.9" width="1.5" height="2.7" fill="#e0566a"/><rect x="1392.35" y="1081.1" width="1.5" height="2.5" fill="#4aa585"/><rect x="1396.75" y="1080.0" width="1.5" height="3.6" fill="#4aa585"/><rect x="1401.15" y="1080.2" width="1.5" height="3.4" fill="#e0566a"/><rect x="1405.55" y="1080.2" width="1.5" height="3.4" fill="#4aa585"/><rect x="1409.95" y="1080.2" width="1.5" height="3.4" fill="#4aa585"/><rect x="1414.35" y="1080.5" width="1.5" height="3.1" fill="#4aa585"/><rect x="1418.75" y="1081.1" width="1.5" height="2.5" fill="#4aa585"/><rect x="1423.15" y="1081.3" width="1.5" height="2.3" fill="#e0566a"/><rect x="1427.55" y="1080.5" width="1.5" height="3.1" fill="#4aa585"/><rect x="1431.95" y="1080.5" width="1.5" height="3.1" fill="#4aa585"/><rect x="1436.35" y="1081.1" width="1.5" height="2.5" fill="#4aa585"/><rect x="1440.75" y="1081.3" width="1.5" height="2.3" fill="#4aa585"/><rect x="1445.15" y="1081.1" width="1.5" height="2.5" fill="#e0566a"/><rect x="1449.55" y="1076.3" width="1.5" height="7.2" fill="#e0566a"/><rect x="1453.95" y="1080.0" width="1.5" height="3.6" fill="#e0566a"/><rect x="1458.35" y="1076.3" width="1.5" height="7.2" fill="#e0566a"/><rect x="1462.75" y="1079.4" width="1.5" height="4.2" fill="#4aa585"/><rect x="1467.15" y="1076.0" width="1.5" height="7.6" fill="#e0566a"/><rect x="1471.55" y="1075.4" width="1.5" height="8.2" fill="#e0566a"/><rect x="1475.95" y="1079.4" width="1.5" height="4.2" fill="#e0566a"/><rect x="1480.35" y="1078.8" width="1.5" height="4.8" fill="#4aa585"/><rect x="1484.75" y="1078.3" width="1.5" height="5.3" fill="#e0566a"/><rect x="1489.15" y="1078.3" width="1.5" height="5.3" fill="#4aa585"/><rect x="1493.55" y="1081.3" width="1.5" height="2.3" fill="#4aa585"/><rect x="1497.95" y="1079.4" width="1.5" height="4.2" fill="#e0566a"/><rect x="1502.35" y="1080.0" width="1.5" height="3.6" fill="#4aa585"/><rect x="1506.75" y="1080.9" width="1.5" height="2.7" fill="#e0566a"/><rect x="1511.15" y="1080.0" width="1.5" height="3.6" fill="#e0566a"/><rect x="1515.55" y="1080.0" width="1.5" height="3.6" fill="#e0566a"/><rect x="1519.95" y="1080.2" width="1.5" height="3.4" fill="#4aa585"/><rect x="1524.35" y="1081.3" width="1.5" height="2.3" fill="#e0566a"/><rect x="1528.75" y="1077.7" width="1.5" height="5.9" fill="#e0566a"/><rect x="1533.15" y="1079.8" width="1.5" height="3.9" fill="#e0566a"/><rect x="1537.55" y="1079.1" width="1.5" height="4.5" fill="#e0566a"/><rect x="1541.95" y="1080.0" width="1.5" height="3.6" fill="#e0566a"/><rect x="1546.35" y="1079.1" width="1.5" height="4.5" fill="#4aa585"/><rect x="1550.75" y="1079.1" width="1.5" height="4.5" fill="#e0566a"/><rect x="1555.15" y="1080.0" width="1.5" height="3.6" fill="#e0566a"/><rect x="1559.55" y="1081.1" width="1.5" height="2.5" fill="#4aa585"/><rect x="1563.95" y="1080.2" width="1.5" height="3.4" fill="#e0566a"/><rect x="1568.35" y="1078.6" width="1.5" height="5.0" fill="#e0566a"/><rect x="1572.75" y="1078.8" width="1.5" height="4.8" fill="#4aa585"/><rect x="1577.15" y="1078.3" width="1.5" height="5.3" fill="#4aa585"/><rect x="1581.55" y="1078.6" width="1.5" height="5.0" fill="#4aa585"/><rect x="1585.95" y="1079.4" width="1.5" height="4.2" fill="#e0566a"/><rect x="1590.35" y="1079.8" width="1.5" height="3.9" fill="#e0566a"/><rect x="1594.75" y="1080.0" width="1.5" height="3.6" fill="#e0566a"/><rect x="1599.15" y="1079.4" width="1.5" height="4.2" fill="#e0566a"/><rect x="1603.55" y="1079.1" width="1.5" height="4.5" fill="#4aa585"/><rect x="1607.95" y="1073.4" width="1.5" height="10.2" fill="#4aa585"/><rect x="1612.35" y="1078.3" width="1.5" height="5.3" fill="#4aa585"/><rect x="1616.75" y="1079.4" width="1.5" height="4.2" fill="#e0566a"/><rect x="1621.15" y="1079.4" width="1.5" height="4.2" fill="#4aa585"/><rect x="1625.55" y="1077.1" width="1.5" height="6.5" fill="#e0566a"/><rect x="1629.95" y="1078.3" width="1.5" height="5.3" fill="#e0566a"/><rect x="1634.35" y="1079.1" width="1.5" height="4.5" fill="#4aa585"/><rect x="1638.75" y="1079.1" width="1.5" height="4.5" fill="#e0566a"/><rect x="1643.15" y="1072.0" width="1.5" height="11.6" fill="#e0566a"/><rect x="1647.55" y="1074.1" width="1.5" height="9.5" fill="#4aa585"/><rect x="1651.95" y="1074.9" width="1.5" height="8.7" fill="#4aa585"/><rect x="1656.35" y="1078.3" width="1.5" height="5.3" fill="#4aa585"/><rect x="1660.75" y="1080.5" width="1.5" height="3.1" fill="#e0566a"/><rect x="1665.15" y="1078.6" width="1.5" height="5.0" fill="#e0566a"/><rect x="1669.55" y="1074.3" width="1.5" height="9.3" fill="#4aa585"/><rect x="1673.95" y="1076.0" width="1.5" height="7.6" fill="#e0566a"/><rect x="1678.35" y="1076.6" width="1.5" height="7.0" fill="#4aa585"/><rect x="1682.75" y="1076.8" width="1.5" height="6.8" fill="#4aa585"/><rect x="1687.15" y="1076.0" width="1.5" height="7.6" fill="#4aa585"/><rect x="1691.55" y="1077.1" width="1.5" height="6.5" fill="#e0566a"/><rect x="1695.95" y="1077.7" width="1.5" height="5.9" fill="#4aa585"/><rect x="1700.35" y="1072.9" width="1.5" height="10.7" fill="#4aa585"/><rect x="1704.75" y="1073.8" width="1.5" height="9.8" fill="#4aa585"/><rect x="1709.15" y="1072.9" width="1.5" height="10.7" fill="#4aa585"/><rect x="1713.55" y="1073.4" width="1.5" height="10.2" fill="#e0566a"/><rect x="1717.95" y="1071.1" width="1.5" height="12.5" fill="#e0566a"/><rect x="1722.35" y="1070.0" width="1.5" height="13.6" fill="#4aa585"/><rect x="1726.75" y="1072.9" width="1.5" height="10.7" fill="#e0566a"/><rect x="1731.15" y="1068.6" width="1.5" height="14.9" fill="#e0566a"/><rect x="1735.55" y="1067.5" width="1.5" height="16.1" fill="#e0566a"/><rect x="1739.95" y="921.6" width="1.5" height="162.0" fill="#4aa585"/>
</svg>
<span class="t" style="top:11.93px;font-size:58.2px;color:#df4a5c;font-weight:700;letter-spacing:0.7px;left:29.0px;">1382.676</span>
<span class="t" style="top:43.49px;font-size:22px;color:#df4a5c;letter-spacing:-0.3px;left:326.5px;">+122.981</span>
<span class="t" style="top:43.49px;font-size:22px;color:#df4a5c;letter-spacing:-0.1px;left:433px;">+9.76%</span>
<span class="t h" style="left:27.3px;top:79.0px;font-size:21px;width:63.0px;color:#6b6b6b">收盘价</span>
<span class="t" style="top:77.48px;font-size:20.8px;color:#6b6b6b;letter-spacing:0.9px;left:97.9px;">05/13</span>
<span class="t" style="top:77.48px;font-size:20.8px;color:#6b6b6b;letter-spacing:0.3px;left:163.0px;">16:00</span>
<span class="t" style="top:77.66px;font-size:20.6px;color:#6b6b6b;left:222.6px;">(</span>
<span class="t h" style="left:228.0px;top:79.0px;font-size:21.2px;width:42.4px;color:#6b6b6b">美东</span>
<span class="t" style="top:77.66px;font-size:20.6px;color:#6b6b6b;left:270.3px;">)</span>
<span class="t h" style="left:39.3px;top:120.9px;font-size:21.2px;width:63.6px;color:#1a1a1a">成分股</span>
<span class="t" style="top:119.96px;font-size:20.6px;color:#1a1a1a;left:103.4px;">:</span>
<span class="t" style="top:119.23px;font-size:21.4px;color:#1a1a1a;letter-spacing:0.3px;left:115.4px;">34</span>
<span class="t h" style="left:138.8px;top:120.9px;font-size:21.2px;width:21.2px;color:#1a1a1a">只</span>
<span class="t h" style="left:183.6px;top:120.9px;font-size:21.2px;width:63.6px;color:#1a1a1a">领涨股</span>
<span class="t" style="top:119.96px;font-size:20.6px;color:#1a1a1a;left:247.69999999999996px;">:</span>
<span class="t" style="top:119.59px;font-size:21px;color:#1a1a1a;letter-spacing:-1.2px;left:259px;">BKKT</span>
<span class="t" style="top:119.59px;font-size:21px;color:#df4a5c;letter-spacing:0.45px;left:318.3px;">+47.35%</span>
<span class="t" style="top:38.64px;font-size:21.5px;color:#df4a5c;right:251.40px;">1386.786</span>
<span class="t" style="top:38.64px;font-size:21.5px;color:#df4a5c;right:83.70px;">1313.216</span>
<span class="t h" style="left:1451.6px;top:79.6px;font-size:21px;width:63.0px;color:#6b6b6b">最高价</span>
<span class="t h" style="left:1619.5px;top:79.6px;font-size:21px;width:63.0px;color:#6b6b6b">最低价</span>
<span class="t h" style="left:28.3px;top:216.0px;font-size:26.6px;width:53.2px;color:#111;font-weight:700">概览</span>
<span class="t h" style="left:136.3px;top:216.0px;font-size:26.8px;width:53.6px;color:#222">资讯</span>
<span class="t h" style="left:244.2px;top:216.0px;font-size:26.8px;width:53.6px;color:#222">评论</span>
<span class="t h" style="left:53.5px;top:336.5px;font-size:23.6px;width:47.2px;color:#1a1a1a">分时</span>
<span class="t" style="top:335.84px;font-size:23.6px;color:#555;left:176.5px;">5</span>
<span class="t h" style="left:190.0px;top:336.5px;font-size:23.6px;width:23.6px;color:#555">日</span>
<span class="t h" style="left:286.5px;top:336.5px;font-size:23.6px;width:23.6px;color:#555">日</span>
<span class="t" style="top:335.84px;font-size:23.6px;color:#555;left:309.6px;">K</span>
<span class="t h" style="left:400.4px;top:336.5px;font-size:23.6px;width:23.6px;color:#555">周</span>
<span class="t" style="top:335.84px;font-size:23.6px;color:#555;left:423.5px;">K</span>
<span class="t h" style="left:514.2px;top:336.5px;font-size:23.6px;width:23.6px;color:#555">月</span>
<span class="t" style="top:335.84px;font-size:23.6px;color:#555;left:537.3000000000001px;">K</span>
<span class="t h" style="left:627.0px;top:336.5px;font-size:23.6px;width:23.6px;color:#555">季</span>
<span class="t" style="top:335.84px;font-size:23.6px;color:#555;left:650.1px;">K</span>
<span class="t h" style="left:740.3px;top:336.5px;font-size:23.6px;width:23.6px;color:#555">年</span>
<span class="t" style="top:335.84px;font-size:23.6px;color:#555;left:763.4px;">K</span>
<span class="t h" style="left:761.0px;top:646.0px;font-size:90px;width:390.0px;color:#555;opacity:0.035;font-weight:700;letter-spacing:7.5px">富途牛牛</span>
<span class="t" style="top:879.74px;font-size:20.4px;color:#1f1f1f;letter-spacing:0.2px;left:32.3px;">09:31</span>
<span class="t c" style="left:372px;width:100px;top:879.74px;font-size:20.4px;color:#1f1f1f">11:00</span>
<span class="t c" style="left:636px;width:100px;top:879.74px;font-size:20.4px;color:#1f1f1f">12:00</span>
<span class="t c" style="left:900px;width:100px;top:879.74px;font-size:20.4px;color:#1f1f1f">13:00</span>
<span class="t c" style="left:1164px;width:100px;top:879.74px;font-size:20.4px;color:#1f1f1f">14:00</span>
<span class="t c" style="left:1428px;width:100px;top:879.74px;font-size:20.4px;color:#1f1f1f">15:00</span>
<span class="t" style="top:879.74px;font-size:20.4px;color:#1f1f1f;letter-spacing:0.2px;right:26.40px;">16:00</span>
<span class="t" style="top:901.80px;font-size:20px;color:#6e6e6e;letter-spacing:0.85px;left:28.0px;">2555.25</span>
<span class="t h" style="left:107.4px;top:903.6px;font-size:20.5px;width:41.0px;color:#6e6e6e">万股</span>
<span class="t" style="top:970.70px;font-size:20px;color:#6e6e6e;letter-spacing:0.1px;left:29.0px;">1277.63</span>
<span class="t h" style="left:99.4px;top:972.5px;font-size:20.5px;width:41.0px;color:#6e6e6e">万股</span>
<span class="t" style="top:1059.55px;font-size:19.5px;color:#6e6e6e;left:29.6px;">0</span>
<span class="t" style="top:901.80px;font-size:20px;color:#6e6e6e;letter-spacing:0.85px;right:64.20px;">2555.25</span>
<span class="t h" style="left:1701.4px;top:903.6px;font-size:20.5px;width:41.0px;color:#6e6e6e">万股</span>
<span class="t" style="top:970.70px;font-size:20px;color:#6e6e6e;letter-spacing:-0.1px;right:64.80px;">1277.63</span>
<span class="t h" style="left:1701.4px;top:972.5px;font-size:20.5px;width:41.0px;color:#6e6e6e">万股</span>
<span class="t" style="top:1059.10px;font-size:20px;color:#6e6e6e;right:23.20px;">0</span>
</body></html>
